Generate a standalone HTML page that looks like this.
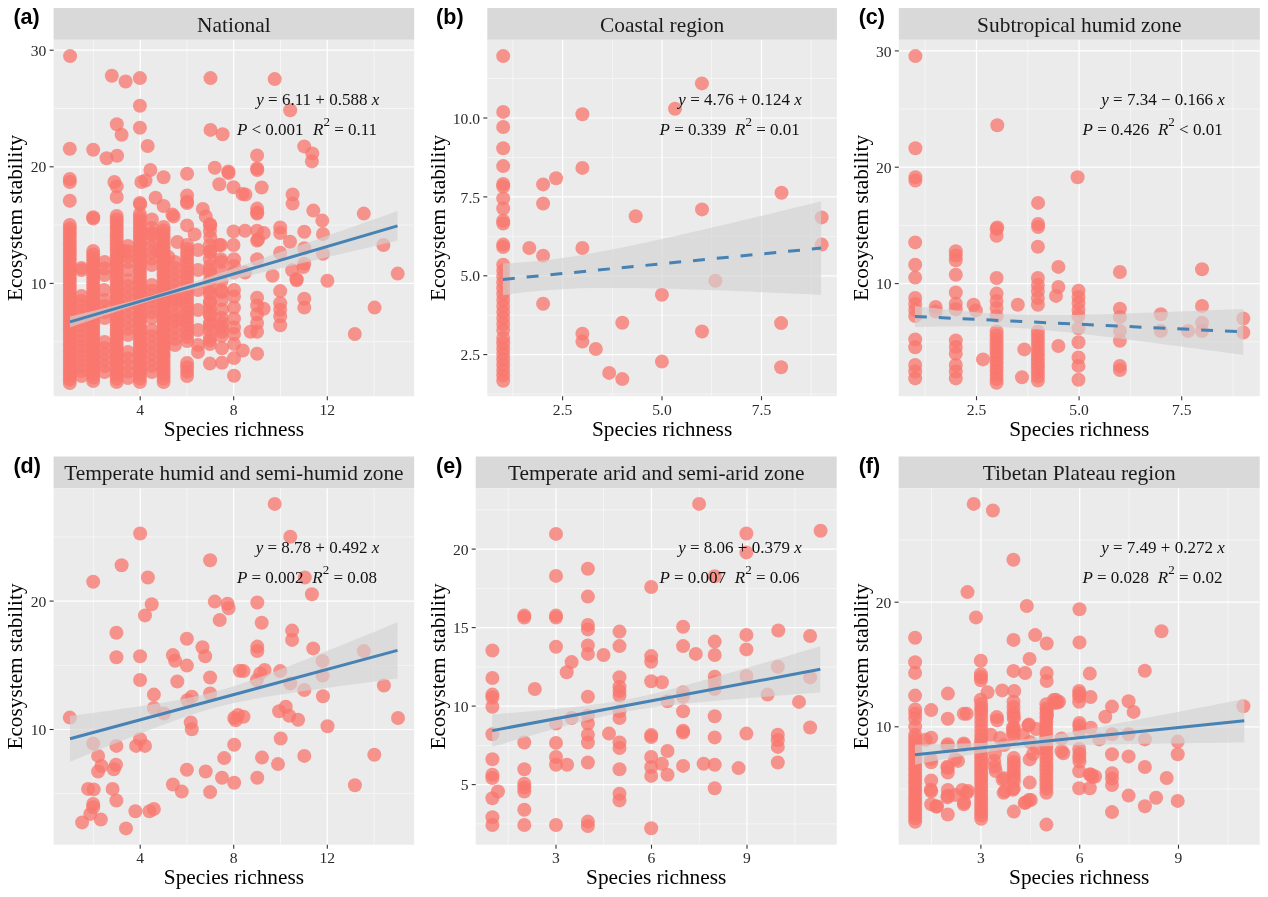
<!DOCTYPE html><html><head><meta charset="utf-8"><title>Ecosystem stability vs species richness</title><style>html,body{margin:0;padding:0;background:#fff;}svg{display:block;will-change:transform;}.tk{font-family:"Liberation Serif",serif;font-size:15.6px;fill:#2a2a2a;}.st{font-family:"Liberation Serif",serif;font-size:21.4px;fill:#1a1a1a;}.ax{font-family:"Liberation Serif",serif;font-size:21.3px;fill:#000;}.eq{font-family:"Liberation Serif",serif;font-size:17px;fill:#111;}.lb{font-family:"Liberation Sans",sans-serif;font-weight:bold;font-size:21.5px;fill:#000;}</style></head><body>
<svg width="1268" height="897" viewBox="0 0 1268 897">
<rect width="1268" height="897" fill="#fff"/>
<clipPath id="clipa"><rect x="53.6" y="39.8" width="360.6" height="356.4"/></clipPath>
<rect x="53.6" y="8" width="360.6" height="31.8" fill="#d9d9d9"/>
<text class="st" x="233.9" y="31.8" text-anchor="middle">National</text>
<rect x="53.6" y="39.8" width="360.6" height="356.4" fill="#ebebeb"/>
<g clip-path="url(#clipa)">
<line x1="93.4" y1="39.8" x2="93.4" y2="396.2" stroke="#fff" stroke-width="0.6" opacity="0.9"/>
<line x1="186.9" y1="39.8" x2="186.9" y2="396.2" stroke="#fff" stroke-width="0.6" opacity="0.9"/>
<line x1="280.5" y1="39.8" x2="280.5" y2="396.2" stroke="#fff" stroke-width="0.6" opacity="0.9"/>
<line x1="374.1" y1="39.8" x2="374.1" y2="396.2" stroke="#fff" stroke-width="0.6" opacity="0.9"/>
<line x1="53.6" y1="341.7" x2="414.2" y2="341.7" stroke="#fff" stroke-width="0.6" opacity="0.9"/>
<line x1="53.6" y1="225.1" x2="414.2" y2="225.1" stroke="#fff" stroke-width="0.6" opacity="0.9"/>
<line x1="53.6" y1="108.5" x2="414.2" y2="108.5" stroke="#fff" stroke-width="0.6" opacity="0.9"/>
<line x1="140.2" y1="39.8" x2="140.2" y2="396.2" stroke="#fff" stroke-width="1.2"/>
<line x1="233.7" y1="39.8" x2="233.7" y2="396.2" stroke="#fff" stroke-width="1.2"/>
<line x1="327.3" y1="39.8" x2="327.3" y2="396.2" stroke="#fff" stroke-width="1.2"/>
<line x1="53.6" y1="283.4" x2="414.2" y2="283.4" stroke="#fff" stroke-width="1.2"/>
<line x1="53.6" y1="166.8" x2="414.2" y2="166.8" stroke="#fff" stroke-width="1.2"/>
<line x1="53.6" y1="50.2" x2="414.2" y2="50.2" stroke="#fff" stroke-width="1.2"/>
<circle fill="rgba(248,118,109,0.76)" cx="70.1" cy="56.1" r="7.0"/>
<circle fill="rgba(248,118,109,0.76)" cx="111.8" cy="75.7" r="7.0"/>
<circle fill="rgba(248,118,109,0.76)" cx="125.6" cy="81.5" r="7.0"/>
<circle fill="rgba(248,118,109,0.76)" cx="139.9" cy="78.1" r="7.0"/>
<circle fill="rgba(248,118,109,0.76)" cx="210.5" cy="78.1" r="7.0"/>
<circle fill="rgba(248,118,109,0.76)" cx="139.9" cy="105.8" r="7.0"/>
<circle fill="rgba(248,118,109,0.76)" cx="116.8" cy="124.3" r="7.0"/>
<circle fill="rgba(248,118,109,0.76)" cx="121.6" cy="134.7" r="7.0"/>
<circle fill="rgba(248,118,109,0.76)" cx="139.9" cy="127.7" r="7.0"/>
<circle fill="rgba(248,118,109,0.76)" cx="210.5" cy="129.9" r="7.0"/>
<circle fill="rgba(248,118,109,0.76)" cx="222.6" cy="134.3" r="7.0"/>
<circle fill="rgba(248,118,109,0.76)" cx="69.8" cy="148.7" r="7.0"/>
<circle fill="rgba(248,118,109,0.76)" cx="93.2" cy="149.7" r="7.0"/>
<circle fill="rgba(248,118,109,0.76)" cx="106.6" cy="158.3" r="7.0"/>
<circle fill="rgba(248,118,109,0.76)" cx="117.1" cy="155.7" r="7.0"/>
<circle fill="rgba(248,118,109,0.76)" cx="147.7" cy="146" r="7.0"/>
<circle fill="rgba(248,118,109,0.76)" cx="69.8" cy="179" r="7.0"/>
<circle fill="rgba(248,118,109,0.76)" cx="69.8" cy="182" r="7.0"/>
<circle fill="rgba(248,118,109,0.76)" cx="69.8" cy="200.7" r="7.0"/>
<circle fill="rgba(248,118,109,0.76)" cx="114.4" cy="182" r="7.0"/>
<circle fill="rgba(248,118,109,0.76)" cx="116.7" cy="186.4" r="7.0"/>
<circle fill="rgba(248,118,109,0.76)" cx="116.7" cy="197" r="7.0"/>
<circle fill="rgba(248,118,109,0.76)" cx="150.4" cy="170" r="7.0"/>
<circle fill="rgba(248,118,109,0.76)" cx="141.4" cy="182" r="7.0"/>
<circle fill="rgba(248,118,109,0.76)" cx="145.5" cy="180.5" r="7.0"/>
<circle fill="rgba(248,118,109,0.76)" cx="163.6" cy="177.2" r="7.0"/>
<circle fill="rgba(248,118,109,0.76)" cx="187.1" cy="173.7" r="7.0"/>
<circle fill="rgba(248,118,109,0.76)" cx="139.9" cy="203" r="7.0"/>
<circle fill="rgba(248,118,109,0.76)" cx="155.6" cy="197.7" r="7.0"/>
<circle fill="rgba(248,118,109,0.76)" cx="163.6" cy="206" r="7.0"/>
<circle fill="rgba(248,118,109,0.76)" cx="187.1" cy="195.4" r="7.0"/>
<circle fill="rgba(248,118,109,0.76)" cx="187.1" cy="203" r="7.0"/>
<circle fill="rgba(248,118,109,0.76)" cx="214.8" cy="167.7" r="7.0"/>
<circle fill="rgba(248,118,109,0.76)" cx="228.3" cy="171.5" r="7.0"/>
<circle fill="rgba(248,118,109,0.76)" cx="219.3" cy="184.2" r="7.0"/>
<circle fill="rgba(248,118,109,0.76)" cx="233.5" cy="187.2" r="7.0"/>
<circle fill="rgba(248,118,109,0.76)" cx="242.5" cy="194" r="7.0"/>
<circle fill="rgba(248,118,109,0.76)" cx="202.8" cy="208.9" r="7.0"/>
<circle fill="rgba(248,118,109,0.76)" cx="205.8" cy="216.4" r="7.0"/>
<circle fill="rgba(248,118,109,0.76)" cx="210.3" cy="225.4" r="7.0"/>
<circle fill="rgba(248,118,109,0.76)" cx="93.2" cy="217.2" r="7.0"/>
<circle fill="rgba(248,118,109,0.76)" cx="151.9" cy="219.4" r="7.0"/>
<circle fill="rgba(248,118,109,0.76)" cx="151.9" cy="233" r="7.0"/>
<circle fill="rgba(248,118,109,0.76)" cx="173.6" cy="216.4" r="7.0"/>
<circle fill="rgba(248,118,109,0.76)" cx="187.1" cy="225.4" r="7.0"/>
<circle fill="rgba(248,118,109,0.76)" cx="194.6" cy="234.4" r="7.0"/>
<circle fill="rgba(248,118,109,0.76)" cx="177.4" cy="242" r="7.0"/>
<circle fill="rgba(248,118,109,0.76)" cx="210.3" cy="237.4" r="7.0"/>
<circle fill="rgba(248,118,109,0.76)" cx="210.3" cy="250.9" r="7.0"/>
<circle fill="rgba(248,118,109,0.76)" cx="219.3" cy="245" r="7.0"/>
<circle fill="rgba(248,118,109,0.76)" cx="233.5" cy="231.4" r="7.0"/>
<circle fill="rgba(248,118,109,0.76)" cx="233.5" cy="245" r="7.0"/>
<circle fill="rgba(248,118,109,0.76)" cx="123.4" cy="251" r="7.0"/>
<circle fill="rgba(248,118,109,0.76)" cx="157.9" cy="251" r="7.0"/>
<circle fill="rgba(248,118,109,0.76)" cx="168.4" cy="257" r="7.0"/>
<circle fill="rgba(248,118,109,0.76)" cx="172.4" cy="214.6" r="7.0"/>
<circle fill="rgba(248,118,109,0.76)" cx="228.6" cy="173" r="7.0"/>
<circle fill="rgba(248,118,109,0.76)" cx="140.2" cy="204.5" r="7.0"/>
<circle fill="rgba(248,118,109,0.76)" cx="93.2" cy="218.5" r="7.0"/>
<circle fill="rgba(248,118,109,0.76)" cx="187.1" cy="201.5" r="7.0"/>
<circle fill="rgba(248,118,109,0.76)" cx="274.7" cy="79.1" r="7.0"/>
<circle fill="rgba(248,118,109,0.76)" cx="290.2" cy="110.2" r="7.0"/>
<circle fill="rgba(248,118,109,0.76)" cx="304.2" cy="146.4" r="7.0"/>
<circle fill="rgba(248,118,109,0.76)" cx="312.3" cy="153.4" r="7.0"/>
<circle fill="rgba(248,118,109,0.76)" cx="311.9" cy="161.4" r="7.0"/>
<circle fill="rgba(248,118,109,0.76)" cx="257.1" cy="155.4" r="7.0"/>
<circle fill="rgba(248,118,109,0.76)" cx="257.1" cy="168.4" r="7.0"/>
<circle fill="rgba(248,118,109,0.76)" cx="245.4" cy="194.5" r="7.0"/>
<circle fill="rgba(248,118,109,0.76)" cx="261.7" cy="187.5" r="7.0"/>
<circle fill="rgba(248,118,109,0.76)" cx="292.6" cy="194.5" r="7.0"/>
<circle fill="rgba(248,118,109,0.76)" cx="292.6" cy="203.6" r="7.0"/>
<circle fill="rgba(248,118,109,0.76)" cx="257.1" cy="208.6" r="7.0"/>
<circle fill="rgba(248,118,109,0.76)" cx="257.1" cy="213.6" r="7.0"/>
<circle fill="rgba(248,118,109,0.76)" cx="313.3" cy="210.6" r="7.0"/>
<circle fill="rgba(248,118,109,0.76)" cx="363.8" cy="213.6" r="7.0"/>
<circle fill="rgba(248,118,109,0.76)" cx="322.3" cy="220.6" r="7.0"/>
<circle fill="rgba(248,118,109,0.76)" cx="323" cy="234" r="7.0"/>
<circle fill="rgba(248,118,109,0.76)" cx="304.3" cy="231.8" r="7.0"/>
<circle fill="rgba(248,118,109,0.76)" cx="280.2" cy="227.5" r="7.0"/>
<circle fill="rgba(248,118,109,0.76)" cx="280.2" cy="233" r="7.0"/>
<circle fill="rgba(248,118,109,0.76)" cx="290" cy="241.7" r="7.0"/>
<circle fill="rgba(248,118,109,0.76)" cx="245" cy="230.7" r="7.0"/>
<circle fill="rgba(248,118,109,0.76)" cx="257.1" cy="230.7" r="7.0"/>
<circle fill="rgba(248,118,109,0.76)" cx="257.1" cy="240.6" r="7.0"/>
<circle fill="rgba(248,118,109,0.76)" cx="263.7" cy="233" r="7.0"/>
<circle fill="rgba(248,118,109,0.76)" cx="209.9" cy="265.9" r="7.0"/>
<circle fill="rgba(248,118,109,0.76)" cx="209.9" cy="270.3" r="7.0"/>
<circle fill="rgba(248,118,109,0.76)" cx="220.9" cy="259.3" r="7.0"/>
<circle fill="rgba(248,118,109,0.76)" cx="234" cy="259.3" r="7.0"/>
<circle fill="rgba(248,118,109,0.76)" cx="234" cy="265.9" r="7.0"/>
<circle fill="rgba(248,118,109,0.76)" cx="234" cy="272.5" r="7.0"/>
<circle fill="rgba(248,118,109,0.76)" cx="245" cy="272.5" r="7.0"/>
<circle fill="rgba(248,118,109,0.76)" cx="257.1" cy="259.3" r="7.0"/>
<circle fill="rgba(248,118,109,0.76)" cx="280.2" cy="252.7" r="7.0"/>
<circle fill="rgba(248,118,109,0.76)" cx="304.3" cy="248.3" r="7.0"/>
<circle fill="rgba(248,118,109,0.76)" cx="304.3" cy="263.7" r="7.0"/>
<circle fill="rgba(248,118,109,0.76)" cx="323" cy="253.8" r="7.0"/>
<circle fill="rgba(248,118,109,0.76)" cx="292.2" cy="270.3" r="7.0"/>
<circle fill="rgba(248,118,109,0.76)" cx="296.6" cy="279.1" r="7.0"/>
<circle fill="rgba(248,118,109,0.76)" cx="272.5" cy="275.8" r="7.0"/>
<circle fill="rgba(248,118,109,0.76)" cx="327.4" cy="280.8" r="7.0"/>
<circle fill="rgba(248,118,109,0.76)" cx="383.4" cy="245" r="7.0"/>
<circle fill="rgba(248,118,109,0.76)" cx="397.7" cy="273.6" r="7.0"/>
<circle fill="rgba(248,118,109,0.76)" cx="280.2" cy="291.1" r="7.0"/>
<circle fill="rgba(248,118,109,0.76)" cx="304.3" cy="298.8" r="7.0"/>
<circle fill="rgba(248,118,109,0.76)" cx="304.3" cy="307.6" r="7.0"/>
<circle fill="rgba(248,118,109,0.76)" cx="374.6" cy="307.6" r="7.0"/>
<circle fill="rgba(248,118,109,0.76)" cx="354.8" cy="334" r="7.0"/>
<circle fill="rgba(248,118,109,0.76)" cx="280.2" cy="303.2" r="7.0"/>
<circle fill="rgba(248,118,109,0.76)" cx="280.2" cy="309.8" r="7.0"/>
<circle fill="rgba(248,118,109,0.76)" cx="280.2" cy="316.4" r="7.0"/>
<circle fill="rgba(248,118,109,0.76)" cx="280.2" cy="325.2" r="7.0"/>
<circle fill="rgba(248,118,109,0.76)" cx="257.1" cy="297.7" r="7.0"/>
<circle fill="rgba(248,118,109,0.76)" cx="257.1" cy="305.4" r="7.0"/>
<circle fill="rgba(248,118,109,0.76)" cx="257.1" cy="314.2" r="7.0"/>
<circle fill="rgba(248,118,109,0.76)" cx="257.1" cy="323" r="7.0"/>
<circle fill="rgba(248,118,109,0.76)" cx="257.1" cy="331.8" r="7.0"/>
<circle fill="rgba(248,118,109,0.76)" cx="263.7" cy="308.7" r="7.0"/>
<circle fill="rgba(248,118,109,0.76)" cx="250.5" cy="331.8" r="7.0"/>
<circle fill="rgba(248,118,109,0.76)" cx="234" cy="290" r="7.0"/>
<circle fill="rgba(248,118,109,0.76)" cx="234" cy="296.6" r="7.0"/>
<circle fill="rgba(248,118,109,0.76)" cx="234" cy="307.6" r="7.0"/>
<circle fill="rgba(248,118,109,0.76)" cx="234" cy="318.6" r="7.0"/>
<circle fill="rgba(248,118,109,0.76)" cx="234" cy="327.4" r="7.0"/>
<circle fill="rgba(248,118,109,0.76)" cx="234" cy="334" r="7.0"/>
<circle fill="rgba(248,118,109,0.76)" cx="222" cy="292.2" r="7.0"/>
<circle fill="rgba(248,118,109,0.76)" cx="222" cy="309.8" r="7.0"/>
<circle fill="rgba(248,118,109,0.76)" cx="222" cy="323" r="7.0"/>
<circle fill="rgba(248,118,109,0.76)" cx="222" cy="331.8" r="7.0"/>
<circle fill="rgba(248,118,109,0.76)" cx="209.9" cy="292.2" r="7.0"/>
<circle fill="rgba(248,118,109,0.76)" cx="209.9" cy="303.2" r="7.0"/>
<circle fill="rgba(248,118,109,0.76)" cx="209.9" cy="314.2" r="7.0"/>
<circle fill="rgba(248,118,109,0.76)" cx="209.9" cy="325.2" r="7.0"/>
<circle fill="rgba(248,118,109,0.76)" cx="209.9" cy="340.6" r="7.0"/>
<circle fill="rgba(248,118,109,0.76)" cx="222" cy="348.3" r="7.0"/>
<circle fill="rgba(248,118,109,0.76)" cx="234" cy="343.9" r="7.0"/>
<circle fill="rgba(248,118,109,0.76)" cx="234" cy="358.1" r="7.0"/>
<circle fill="rgba(248,118,109,0.76)" cx="242.8" cy="350.5" r="7.0"/>
<circle fill="rgba(248,118,109,0.76)" cx="257.1" cy="353.7" r="7.0"/>
<circle fill="rgba(248,118,109,0.76)" cx="209.9" cy="363.6" r="7.0"/>
<circle fill="rgba(248,118,109,0.76)" cx="234" cy="375.7" r="7.0"/>
<circle fill="rgba(248,118,109,0.76)" cx="220.9" cy="245" r="7.0"/>
<circle fill="rgba(248,118,109,0.76)" cx="209.9" cy="224.2" r="7.0"/>
<circle fill="rgba(248,118,109,0.76)" cx="198" cy="290" r="7.0"/>
<circle fill="rgba(248,118,109,0.76)" cx="198" cy="310" r="7.0"/>
<circle fill="rgba(248,118,109,0.76)" cx="198" cy="330" r="7.0"/>
<circle fill="rgba(248,118,109,0.76)" cx="198" cy="270" r="7.0"/>
<circle fill="rgba(248,118,109,0.76)" cx="198" cy="250" r="7.0"/>
<circle fill="rgba(248,118,109,0.76)" cx="69.8" cy="225" r="7.0"/>
<circle fill="rgba(248,118,109,0.76)" cx="69.8" cy="228.5" r="7.0"/>
<circle fill="rgba(248,118,109,0.76)" cx="69.8" cy="232" r="7.0"/>
<circle fill="rgba(248,118,109,0.76)" cx="69.8" cy="235.5" r="7.0"/>
<circle fill="rgba(248,118,109,0.76)" cx="69.8" cy="239" r="7.0"/>
<circle fill="rgba(248,118,109,0.76)" cx="69.8" cy="242.6" r="7.0"/>
<circle fill="rgba(248,118,109,0.76)" cx="69.8" cy="246.1" r="7.0"/>
<circle fill="rgba(248,118,109,0.76)" cx="69.8" cy="249.6" r="7.0"/>
<circle fill="rgba(248,118,109,0.76)" cx="69.8" cy="253.1" r="7.0"/>
<circle fill="rgba(248,118,109,0.76)" cx="69.8" cy="256.6" r="7.0"/>
<circle fill="rgba(248,118,109,0.76)" cx="69.8" cy="260.1" r="7.0"/>
<circle fill="rgba(248,118,109,0.76)" cx="69.8" cy="263.6" r="7.0"/>
<circle fill="rgba(248,118,109,0.76)" cx="69.8" cy="267.1" r="7.0"/>
<circle fill="rgba(248,118,109,0.76)" cx="69.8" cy="270.6" r="7.0"/>
<circle fill="rgba(248,118,109,0.76)" cx="69.8" cy="274.2" r="7.0"/>
<circle fill="rgba(248,118,109,0.76)" cx="69.8" cy="277.7" r="7.0"/>
<circle fill="rgba(248,118,109,0.76)" cx="69.8" cy="281.2" r="7.0"/>
<circle fill="rgba(248,118,109,0.76)" cx="69.8" cy="284.7" r="7.0"/>
<circle fill="rgba(248,118,109,0.76)" cx="69.8" cy="288.2" r="7.0"/>
<circle fill="rgba(248,118,109,0.76)" cx="69.8" cy="291.7" r="7.0"/>
<circle fill="rgba(248,118,109,0.76)" cx="69.8" cy="295.2" r="7.0"/>
<circle fill="rgba(248,118,109,0.76)" cx="69.8" cy="298.7" r="7.0"/>
<circle fill="rgba(248,118,109,0.76)" cx="69.8" cy="302.2" r="7.0"/>
<circle fill="rgba(248,118,109,0.76)" cx="69.8" cy="305.8" r="7.0"/>
<circle fill="rgba(248,118,109,0.76)" cx="69.8" cy="309.3" r="7.0"/>
<circle fill="rgba(248,118,109,0.76)" cx="69.8" cy="312.8" r="7.0"/>
<circle fill="rgba(248,118,109,0.76)" cx="69.8" cy="316.3" r="7.0"/>
<circle fill="rgba(248,118,109,0.76)" cx="69.8" cy="319.8" r="7.0"/>
<circle fill="rgba(248,118,109,0.76)" cx="69.8" cy="323.3" r="7.0"/>
<circle fill="rgba(248,118,109,0.76)" cx="69.8" cy="326.8" r="7.0"/>
<circle fill="rgba(248,118,109,0.76)" cx="69.8" cy="330.3" r="7.0"/>
<circle fill="rgba(248,118,109,0.76)" cx="69.8" cy="333.8" r="7.0"/>
<circle fill="rgba(248,118,109,0.76)" cx="69.8" cy="337.4" r="7.0"/>
<circle fill="rgba(248,118,109,0.76)" cx="69.8" cy="340.9" r="7.0"/>
<circle fill="rgba(248,118,109,0.76)" cx="69.8" cy="344.4" r="7.0"/>
<circle fill="rgba(248,118,109,0.76)" cx="69.8" cy="347.9" r="7.0"/>
<circle fill="rgba(248,118,109,0.76)" cx="69.8" cy="351.4" r="7.0"/>
<circle fill="rgba(248,118,109,0.76)" cx="69.8" cy="354.9" r="7.0"/>
<circle fill="rgba(248,118,109,0.76)" cx="69.8" cy="358.4" r="7.0"/>
<circle fill="rgba(248,118,109,0.76)" cx="69.8" cy="361.9" r="7.0"/>
<circle fill="rgba(248,118,109,0.76)" cx="69.8" cy="365.4" r="7.0"/>
<circle fill="rgba(248,118,109,0.76)" cx="69.8" cy="369" r="7.0"/>
<circle fill="rgba(248,118,109,0.76)" cx="69.8" cy="372.5" r="7.0"/>
<circle fill="rgba(248,118,109,0.76)" cx="69.8" cy="376" r="7.0"/>
<circle fill="rgba(248,118,109,0.76)" cx="69.8" cy="379.5" r="7.0"/>
<circle fill="rgba(248,118,109,0.76)" cx="69.8" cy="383" r="7.0"/>
<circle fill="rgba(248,118,109,0.76)" cx="93.2" cy="251" r="7.0"/>
<circle fill="rgba(248,118,109,0.76)" cx="93.2" cy="254.5" r="7.0"/>
<circle fill="rgba(248,118,109,0.76)" cx="93.2" cy="258" r="7.0"/>
<circle fill="rgba(248,118,109,0.76)" cx="93.2" cy="261.5" r="7.0"/>
<circle fill="rgba(248,118,109,0.76)" cx="93.2" cy="265.1" r="7.0"/>
<circle fill="rgba(248,118,109,0.76)" cx="93.2" cy="268.6" r="7.0"/>
<circle fill="rgba(248,118,109,0.76)" cx="93.2" cy="272.1" r="7.0"/>
<circle fill="rgba(248,118,109,0.76)" cx="93.2" cy="275.6" r="7.0"/>
<circle fill="rgba(248,118,109,0.76)" cx="93.2" cy="279.1" r="7.0"/>
<circle fill="rgba(248,118,109,0.76)" cx="93.2" cy="282.6" r="7.0"/>
<circle fill="rgba(248,118,109,0.76)" cx="93.2" cy="286.1" r="7.0"/>
<circle fill="rgba(248,118,109,0.76)" cx="93.2" cy="289.6" r="7.0"/>
<circle fill="rgba(248,118,109,0.76)" cx="93.2" cy="293.2" r="7.0"/>
<circle fill="rgba(248,118,109,0.76)" cx="93.2" cy="296.7" r="7.0"/>
<circle fill="rgba(248,118,109,0.76)" cx="93.2" cy="300.2" r="7.0"/>
<circle fill="rgba(248,118,109,0.76)" cx="93.2" cy="303.7" r="7.0"/>
<circle fill="rgba(248,118,109,0.76)" cx="93.2" cy="307.2" r="7.0"/>
<circle fill="rgba(248,118,109,0.76)" cx="93.2" cy="310.7" r="7.0"/>
<circle fill="rgba(248,118,109,0.76)" cx="93.2" cy="314.2" r="7.0"/>
<circle fill="rgba(248,118,109,0.76)" cx="93.2" cy="317.8" r="7.0"/>
<circle fill="rgba(248,118,109,0.76)" cx="93.2" cy="321.3" r="7.0"/>
<circle fill="rgba(248,118,109,0.76)" cx="93.2" cy="324.8" r="7.0"/>
<circle fill="rgba(248,118,109,0.76)" cx="93.2" cy="328.3" r="7.0"/>
<circle fill="rgba(248,118,109,0.76)" cx="93.2" cy="331.8" r="7.0"/>
<circle fill="rgba(248,118,109,0.76)" cx="93.2" cy="335.3" r="7.0"/>
<circle fill="rgba(248,118,109,0.76)" cx="93.2" cy="338.8" r="7.0"/>
<circle fill="rgba(248,118,109,0.76)" cx="93.2" cy="342.4" r="7.0"/>
<circle fill="rgba(248,118,109,0.76)" cx="93.2" cy="345.9" r="7.0"/>
<circle fill="rgba(248,118,109,0.76)" cx="93.2" cy="349.4" r="7.0"/>
<circle fill="rgba(248,118,109,0.76)" cx="93.2" cy="352.9" r="7.0"/>
<circle fill="rgba(248,118,109,0.76)" cx="93.2" cy="356.4" r="7.0"/>
<circle fill="rgba(248,118,109,0.76)" cx="93.2" cy="359.9" r="7.0"/>
<circle fill="rgba(248,118,109,0.76)" cx="93.2" cy="363.4" r="7.0"/>
<circle fill="rgba(248,118,109,0.76)" cx="93.2" cy="366.9" r="7.0"/>
<circle fill="rgba(248,118,109,0.76)" cx="93.2" cy="370.5" r="7.0"/>
<circle fill="rgba(248,118,109,0.76)" cx="93.2" cy="374" r="7.0"/>
<circle fill="rgba(248,118,109,0.76)" cx="93.2" cy="377.5" r="7.0"/>
<circle fill="rgba(248,118,109,0.76)" cx="93.2" cy="381" r="7.0"/>
<circle fill="rgba(248,118,109,0.76)" cx="116.7" cy="216" r="7.0"/>
<circle fill="rgba(248,118,109,0.76)" cx="116.7" cy="219.5" r="7.0"/>
<circle fill="rgba(248,118,109,0.76)" cx="116.7" cy="223.1" r="7.0"/>
<circle fill="rgba(248,118,109,0.76)" cx="116.7" cy="226.6" r="7.0"/>
<circle fill="rgba(248,118,109,0.76)" cx="116.7" cy="230.1" r="7.0"/>
<circle fill="rgba(248,118,109,0.76)" cx="116.7" cy="233.7" r="7.0"/>
<circle fill="rgba(248,118,109,0.76)" cx="116.7" cy="237.2" r="7.0"/>
<circle fill="rgba(248,118,109,0.76)" cx="116.7" cy="240.7" r="7.0"/>
<circle fill="rgba(248,118,109,0.76)" cx="116.7" cy="244.3" r="7.0"/>
<circle fill="rgba(248,118,109,0.76)" cx="116.7" cy="247.8" r="7.0"/>
<circle fill="rgba(248,118,109,0.76)" cx="116.7" cy="251.3" r="7.0"/>
<circle fill="rgba(248,118,109,0.76)" cx="116.7" cy="254.9" r="7.0"/>
<circle fill="rgba(248,118,109,0.76)" cx="116.7" cy="258.4" r="7.0"/>
<circle fill="rgba(248,118,109,0.76)" cx="116.7" cy="261.9" r="7.0"/>
<circle fill="rgba(248,118,109,0.76)" cx="116.7" cy="265.4" r="7.0"/>
<circle fill="rgba(248,118,109,0.76)" cx="116.7" cy="269" r="7.0"/>
<circle fill="rgba(248,118,109,0.76)" cx="116.7" cy="272.5" r="7.0"/>
<circle fill="rgba(248,118,109,0.76)" cx="116.7" cy="276" r="7.0"/>
<circle fill="rgba(248,118,109,0.76)" cx="116.7" cy="279.6" r="7.0"/>
<circle fill="rgba(248,118,109,0.76)" cx="116.7" cy="283.1" r="7.0"/>
<circle fill="rgba(248,118,109,0.76)" cx="116.7" cy="286.6" r="7.0"/>
<circle fill="rgba(248,118,109,0.76)" cx="116.7" cy="290.2" r="7.0"/>
<circle fill="rgba(248,118,109,0.76)" cx="116.7" cy="293.7" r="7.0"/>
<circle fill="rgba(248,118,109,0.76)" cx="116.7" cy="297.2" r="7.0"/>
<circle fill="rgba(248,118,109,0.76)" cx="116.7" cy="300.8" r="7.0"/>
<circle fill="rgba(248,118,109,0.76)" cx="116.7" cy="304.3" r="7.0"/>
<circle fill="rgba(248,118,109,0.76)" cx="116.7" cy="307.8" r="7.0"/>
<circle fill="rgba(248,118,109,0.76)" cx="116.7" cy="311.4" r="7.0"/>
<circle fill="rgba(248,118,109,0.76)" cx="116.7" cy="314.9" r="7.0"/>
<circle fill="rgba(248,118,109,0.76)" cx="116.7" cy="318.4" r="7.0"/>
<circle fill="rgba(248,118,109,0.76)" cx="116.7" cy="322" r="7.0"/>
<circle fill="rgba(248,118,109,0.76)" cx="116.7" cy="325.5" r="7.0"/>
<circle fill="rgba(248,118,109,0.76)" cx="116.7" cy="329" r="7.0"/>
<circle fill="rgba(248,118,109,0.76)" cx="116.7" cy="332.6" r="7.0"/>
<circle fill="rgba(248,118,109,0.76)" cx="116.7" cy="336.1" r="7.0"/>
<circle fill="rgba(248,118,109,0.76)" cx="116.7" cy="339.6" r="7.0"/>
<circle fill="rgba(248,118,109,0.76)" cx="116.7" cy="343.1" r="7.0"/>
<circle fill="rgba(248,118,109,0.76)" cx="116.7" cy="346.7" r="7.0"/>
<circle fill="rgba(248,118,109,0.76)" cx="116.7" cy="350.2" r="7.0"/>
<circle fill="rgba(248,118,109,0.76)" cx="116.7" cy="353.7" r="7.0"/>
<circle fill="rgba(248,118,109,0.76)" cx="116.7" cy="357.3" r="7.0"/>
<circle fill="rgba(248,118,109,0.76)" cx="116.7" cy="360.8" r="7.0"/>
<circle fill="rgba(248,118,109,0.76)" cx="116.7" cy="364.3" r="7.0"/>
<circle fill="rgba(248,118,109,0.76)" cx="116.7" cy="367.9" r="7.0"/>
<circle fill="rgba(248,118,109,0.76)" cx="116.7" cy="371.4" r="7.0"/>
<circle fill="rgba(248,118,109,0.76)" cx="116.7" cy="374.9" r="7.0"/>
<circle fill="rgba(248,118,109,0.76)" cx="116.7" cy="378.5" r="7.0"/>
<circle fill="rgba(248,118,109,0.76)" cx="116.7" cy="382" r="7.0"/>
<circle fill="rgba(248,118,109,0.76)" cx="139.9" cy="214" r="7.0"/>
<circle fill="rgba(248,118,109,0.76)" cx="139.9" cy="217.5" r="7.0"/>
<circle fill="rgba(248,118,109,0.76)" cx="139.9" cy="221" r="7.0"/>
<circle fill="rgba(248,118,109,0.76)" cx="139.9" cy="224.5" r="7.0"/>
<circle fill="rgba(248,118,109,0.76)" cx="139.9" cy="228" r="7.0"/>
<circle fill="rgba(248,118,109,0.76)" cx="139.9" cy="231.5" r="7.0"/>
<circle fill="rgba(248,118,109,0.76)" cx="139.9" cy="235" r="7.0"/>
<circle fill="rgba(248,118,109,0.76)" cx="139.9" cy="238.5" r="7.0"/>
<circle fill="rgba(248,118,109,0.76)" cx="139.9" cy="242" r="7.0"/>
<circle fill="rgba(248,118,109,0.76)" cx="139.9" cy="245.5" r="7.0"/>
<circle fill="rgba(248,118,109,0.76)" cx="139.9" cy="249" r="7.0"/>
<circle fill="rgba(248,118,109,0.76)" cx="139.9" cy="252.5" r="7.0"/>
<circle fill="rgba(248,118,109,0.76)" cx="139.9" cy="256" r="7.0"/>
<circle fill="rgba(248,118,109,0.76)" cx="139.9" cy="259.5" r="7.0"/>
<circle fill="rgba(248,118,109,0.76)" cx="139.9" cy="263" r="7.0"/>
<circle fill="rgba(248,118,109,0.76)" cx="139.9" cy="266.5" r="7.0"/>
<circle fill="rgba(248,118,109,0.76)" cx="139.9" cy="270" r="7.0"/>
<circle fill="rgba(248,118,109,0.76)" cx="139.9" cy="273.5" r="7.0"/>
<circle fill="rgba(248,118,109,0.76)" cx="139.9" cy="277" r="7.0"/>
<circle fill="rgba(248,118,109,0.76)" cx="139.9" cy="280.5" r="7.0"/>
<circle fill="rgba(248,118,109,0.76)" cx="139.9" cy="284" r="7.0"/>
<circle fill="rgba(248,118,109,0.76)" cx="139.9" cy="287.5" r="7.0"/>
<circle fill="rgba(248,118,109,0.76)" cx="139.9" cy="291" r="7.0"/>
<circle fill="rgba(248,118,109,0.76)" cx="139.9" cy="294.5" r="7.0"/>
<circle fill="rgba(248,118,109,0.76)" cx="139.9" cy="298" r="7.0"/>
<circle fill="rgba(248,118,109,0.76)" cx="139.9" cy="301.5" r="7.0"/>
<circle fill="rgba(248,118,109,0.76)" cx="139.9" cy="305" r="7.0"/>
<circle fill="rgba(248,118,109,0.76)" cx="139.9" cy="308.5" r="7.0"/>
<circle fill="rgba(248,118,109,0.76)" cx="139.9" cy="312" r="7.0"/>
<circle fill="rgba(248,118,109,0.76)" cx="139.9" cy="315.5" r="7.0"/>
<circle fill="rgba(248,118,109,0.76)" cx="139.9" cy="319" r="7.0"/>
<circle fill="rgba(248,118,109,0.76)" cx="139.9" cy="322.5" r="7.0"/>
<circle fill="rgba(248,118,109,0.76)" cx="139.9" cy="326" r="7.0"/>
<circle fill="rgba(248,118,109,0.76)" cx="139.9" cy="329.5" r="7.0"/>
<circle fill="rgba(248,118,109,0.76)" cx="139.9" cy="333" r="7.0"/>
<circle fill="rgba(248,118,109,0.76)" cx="139.9" cy="336.5" r="7.0"/>
<circle fill="rgba(248,118,109,0.76)" cx="139.9" cy="340" r="7.0"/>
<circle fill="rgba(248,118,109,0.76)" cx="139.9" cy="343.5" r="7.0"/>
<circle fill="rgba(248,118,109,0.76)" cx="139.9" cy="347" r="7.0"/>
<circle fill="rgba(248,118,109,0.76)" cx="139.9" cy="350.5" r="7.0"/>
<circle fill="rgba(248,118,109,0.76)" cx="139.9" cy="354" r="7.0"/>
<circle fill="rgba(248,118,109,0.76)" cx="139.9" cy="357.5" r="7.0"/>
<circle fill="rgba(248,118,109,0.76)" cx="139.9" cy="361" r="7.0"/>
<circle fill="rgba(248,118,109,0.76)" cx="139.9" cy="364.5" r="7.0"/>
<circle fill="rgba(248,118,109,0.76)" cx="139.9" cy="368" r="7.0"/>
<circle fill="rgba(248,118,109,0.76)" cx="139.9" cy="371.5" r="7.0"/>
<circle fill="rgba(248,118,109,0.76)" cx="139.9" cy="375" r="7.0"/>
<circle fill="rgba(248,118,109,0.76)" cx="139.9" cy="378.5" r="7.0"/>
<circle fill="rgba(248,118,109,0.76)" cx="139.9" cy="382" r="7.0"/>
<circle fill="rgba(248,118,109,0.76)" cx="163.6" cy="227" r="7.0"/>
<circle fill="rgba(248,118,109,0.76)" cx="163.6" cy="230.5" r="7.0"/>
<circle fill="rgba(248,118,109,0.76)" cx="163.6" cy="234" r="7.0"/>
<circle fill="rgba(248,118,109,0.76)" cx="163.6" cy="237.6" r="7.0"/>
<circle fill="rgba(248,118,109,0.76)" cx="163.6" cy="241.1" r="7.0"/>
<circle fill="rgba(248,118,109,0.76)" cx="163.6" cy="244.6" r="7.0"/>
<circle fill="rgba(248,118,109,0.76)" cx="163.6" cy="248.1" r="7.0"/>
<circle fill="rgba(248,118,109,0.76)" cx="163.6" cy="251.7" r="7.0"/>
<circle fill="rgba(248,118,109,0.76)" cx="163.6" cy="255.2" r="7.0"/>
<circle fill="rgba(248,118,109,0.76)" cx="163.6" cy="258.7" r="7.0"/>
<circle fill="rgba(248,118,109,0.76)" cx="163.6" cy="262.2" r="7.0"/>
<circle fill="rgba(248,118,109,0.76)" cx="163.6" cy="265.8" r="7.0"/>
<circle fill="rgba(248,118,109,0.76)" cx="163.6" cy="269.3" r="7.0"/>
<circle fill="rgba(248,118,109,0.76)" cx="163.6" cy="272.8" r="7.0"/>
<circle fill="rgba(248,118,109,0.76)" cx="163.6" cy="276.3" r="7.0"/>
<circle fill="rgba(248,118,109,0.76)" cx="163.6" cy="279.8" r="7.0"/>
<circle fill="rgba(248,118,109,0.76)" cx="163.6" cy="283.4" r="7.0"/>
<circle fill="rgba(248,118,109,0.76)" cx="163.6" cy="286.9" r="7.0"/>
<circle fill="rgba(248,118,109,0.76)" cx="163.6" cy="290.4" r="7.0"/>
<circle fill="rgba(248,118,109,0.76)" cx="163.6" cy="293.9" r="7.0"/>
<circle fill="rgba(248,118,109,0.76)" cx="163.6" cy="297.5" r="7.0"/>
<circle fill="rgba(248,118,109,0.76)" cx="163.6" cy="301" r="7.0"/>
<circle fill="rgba(248,118,109,0.76)" cx="163.6" cy="304.5" r="7.0"/>
<circle fill="rgba(248,118,109,0.76)" cx="163.6" cy="308" r="7.0"/>
<circle fill="rgba(248,118,109,0.76)" cx="163.6" cy="311.5" r="7.0"/>
<circle fill="rgba(248,118,109,0.76)" cx="163.6" cy="315.1" r="7.0"/>
<circle fill="rgba(248,118,109,0.76)" cx="163.6" cy="318.6" r="7.0"/>
<circle fill="rgba(248,118,109,0.76)" cx="163.6" cy="322.1" r="7.0"/>
<circle fill="rgba(248,118,109,0.76)" cx="163.6" cy="325.6" r="7.0"/>
<circle fill="rgba(248,118,109,0.76)" cx="163.6" cy="329.2" r="7.0"/>
<circle fill="rgba(248,118,109,0.76)" cx="163.6" cy="332.7" r="7.0"/>
<circle fill="rgba(248,118,109,0.76)" cx="163.6" cy="336.2" r="7.0"/>
<circle fill="rgba(248,118,109,0.76)" cx="163.6" cy="339.7" r="7.0"/>
<circle fill="rgba(248,118,109,0.76)" cx="163.6" cy="343.2" r="7.0"/>
<circle fill="rgba(248,118,109,0.76)" cx="163.6" cy="346.8" r="7.0"/>
<circle fill="rgba(248,118,109,0.76)" cx="163.6" cy="350.3" r="7.0"/>
<circle fill="rgba(248,118,109,0.76)" cx="163.6" cy="353.8" r="7.0"/>
<circle fill="rgba(248,118,109,0.76)" cx="163.6" cy="357.3" r="7.0"/>
<circle fill="rgba(248,118,109,0.76)" cx="163.6" cy="360.9" r="7.0"/>
<circle fill="rgba(248,118,109,0.76)" cx="163.6" cy="364.4" r="7.0"/>
<circle fill="rgba(248,118,109,0.76)" cx="163.6" cy="367.9" r="7.0"/>
<circle fill="rgba(248,118,109,0.76)" cx="163.6" cy="371.4" r="7.0"/>
<circle fill="rgba(248,118,109,0.76)" cx="163.6" cy="375" r="7.0"/>
<circle fill="rgba(248,118,109,0.76)" cx="163.6" cy="378.5" r="7.0"/>
<circle fill="rgba(248,118,109,0.76)" cx="163.6" cy="382" r="7.0"/>
<circle fill="rgba(248,118,109,0.76)" cx="187.1" cy="245" r="7.0"/>
<circle fill="rgba(248,118,109,0.76)" cx="187.1" cy="249" r="7.0"/>
<circle fill="rgba(248,118,109,0.76)" cx="187.1" cy="253" r="7.0"/>
<circle fill="rgba(248,118,109,0.76)" cx="187.1" cy="257" r="7.0"/>
<circle fill="rgba(248,118,109,0.76)" cx="187.1" cy="261" r="7.0"/>
<circle fill="rgba(248,118,109,0.76)" cx="187.1" cy="265" r="7.0"/>
<circle fill="rgba(248,118,109,0.76)" cx="187.1" cy="269" r="7.0"/>
<circle fill="rgba(248,118,109,0.76)" cx="187.1" cy="273" r="7.0"/>
<circle fill="rgba(248,118,109,0.76)" cx="187.1" cy="277" r="7.0"/>
<circle fill="rgba(248,118,109,0.76)" cx="187.1" cy="281" r="7.0"/>
<circle fill="rgba(248,118,109,0.76)" cx="187.1" cy="285" r="7.0"/>
<circle fill="rgba(248,118,109,0.76)" cx="187.1" cy="289" r="7.0"/>
<circle fill="rgba(248,118,109,0.76)" cx="187.1" cy="293" r="7.0"/>
<circle fill="rgba(248,118,109,0.76)" cx="187.1" cy="297" r="7.0"/>
<circle fill="rgba(248,118,109,0.76)" cx="187.1" cy="301" r="7.0"/>
<circle fill="rgba(248,118,109,0.76)" cx="187.1" cy="305" r="7.0"/>
<circle fill="rgba(248,118,109,0.76)" cx="187.1" cy="309" r="7.0"/>
<circle fill="rgba(248,118,109,0.76)" cx="187.1" cy="313" r="7.0"/>
<circle fill="rgba(248,118,109,0.76)" cx="187.1" cy="317" r="7.0"/>
<circle fill="rgba(248,118,109,0.76)" cx="187.1" cy="321" r="7.0"/>
<circle fill="rgba(248,118,109,0.76)" cx="187.1" cy="325" r="7.0"/>
<circle fill="rgba(248,118,109,0.76)" cx="187.1" cy="329" r="7.0"/>
<circle fill="rgba(248,118,109,0.76)" cx="187.1" cy="333" r="7.0"/>
<circle fill="rgba(248,118,109,0.76)" cx="187.1" cy="337" r="7.0"/>
<circle fill="rgba(248,118,109,0.76)" cx="187.1" cy="341" r="7.0"/>
<circle fill="rgba(248,118,109,0.76)" cx="187.1" cy="363" r="7.0"/>
<circle fill="rgba(248,118,109,0.76)" cx="187.1" cy="367.3" r="7.0"/>
<circle fill="rgba(248,118,109,0.76)" cx="187.1" cy="371.7" r="7.0"/>
<circle fill="rgba(248,118,109,0.76)" cx="187.1" cy="376" r="7.0"/>
<circle fill="rgba(248,118,109,0.76)" cx="81.5" cy="268" r="7.0"/>
<circle fill="rgba(248,118,109,0.76)" cx="81.5" cy="270" r="7.0"/>
<circle fill="rgba(248,118,109,0.76)" cx="81.5" cy="296" r="7.0"/>
<circle fill="rgba(248,118,109,0.76)" cx="81.5" cy="301" r="7.0"/>
<circle fill="rgba(248,118,109,0.76)" cx="81.5" cy="306" r="7.0"/>
<circle fill="rgba(248,118,109,0.76)" cx="81.5" cy="311" r="7.0"/>
<circle fill="rgba(248,118,109,0.76)" cx="81.5" cy="316" r="7.0"/>
<circle fill="rgba(248,118,109,0.76)" cx="81.5" cy="321" r="7.0"/>
<circle fill="rgba(248,118,109,0.76)" cx="81.5" cy="326" r="7.0"/>
<circle fill="rgba(248,118,109,0.76)" cx="81.5" cy="331" r="7.0"/>
<circle fill="rgba(248,118,109,0.76)" cx="81.5" cy="336" r="7.0"/>
<circle fill="rgba(248,118,109,0.76)" cx="81.5" cy="341" r="7.0"/>
<circle fill="rgba(248,118,109,0.76)" cx="81.5" cy="346" r="7.0"/>
<circle fill="rgba(248,118,109,0.76)" cx="81.5" cy="351" r="7.0"/>
<circle fill="rgba(248,118,109,0.76)" cx="81.5" cy="356" r="7.0"/>
<circle fill="rgba(248,118,109,0.76)" cx="81.5" cy="361" r="7.0"/>
<circle fill="rgba(248,118,109,0.76)" cx="81.5" cy="366" r="7.0"/>
<circle fill="rgba(248,118,109,0.76)" cx="81.5" cy="371" r="7.0"/>
<circle fill="rgba(248,118,109,0.76)" cx="81.5" cy="376" r="7.0"/>
<circle fill="rgba(248,118,109,0.76)" cx="104.6" cy="262" r="7.0"/>
<circle fill="rgba(248,118,109,0.76)" cx="104.6" cy="268.5" r="7.0"/>
<circle fill="rgba(248,118,109,0.76)" cx="104.6" cy="275" r="7.0"/>
<circle fill="rgba(248,118,109,0.76)" cx="104.6" cy="300" r="7.0"/>
<circle fill="rgba(248,118,109,0.76)" cx="104.6" cy="306" r="7.0"/>
<circle fill="rgba(248,118,109,0.76)" cx="104.6" cy="312" r="7.0"/>
<circle fill="rgba(248,118,109,0.76)" cx="104.6" cy="318" r="7.0"/>
<circle fill="rgba(248,118,109,0.76)" cx="104.6" cy="342" r="7.0"/>
<circle fill="rgba(248,118,109,0.76)" cx="104.6" cy="348" r="7.0"/>
<circle fill="rgba(248,118,109,0.76)" cx="104.6" cy="354" r="7.0"/>
<circle fill="rgba(248,118,109,0.76)" cx="104.6" cy="360" r="7.0"/>
<circle fill="rgba(248,118,109,0.76)" cx="104.6" cy="366" r="7.0"/>
<circle fill="rgba(248,118,109,0.76)" cx="104.6" cy="372" r="7.0"/>
<circle fill="rgba(248,118,109,0.76)" cx="128" cy="246" r="7.0"/>
<circle fill="rgba(248,118,109,0.76)" cx="128" cy="251.3" r="7.0"/>
<circle fill="rgba(248,118,109,0.76)" cx="128" cy="256.7" r="7.0"/>
<circle fill="rgba(248,118,109,0.76)" cx="128" cy="262" r="7.0"/>
<circle fill="rgba(248,118,109,0.76)" cx="128" cy="280" r="7.0"/>
<circle fill="rgba(248,118,109,0.76)" cx="128" cy="286.1" r="7.0"/>
<circle fill="rgba(248,118,109,0.76)" cx="128" cy="292.2" r="7.0"/>
<circle fill="rgba(248,118,109,0.76)" cx="128" cy="298.3" r="7.0"/>
<circle fill="rgba(248,118,109,0.76)" cx="128" cy="304.4" r="7.0"/>
<circle fill="rgba(248,118,109,0.76)" cx="128" cy="310.6" r="7.0"/>
<circle fill="rgba(248,118,109,0.76)" cx="128" cy="316.7" r="7.0"/>
<circle fill="rgba(248,118,109,0.76)" cx="128" cy="322.8" r="7.0"/>
<circle fill="rgba(248,118,109,0.76)" cx="128" cy="328.9" r="7.0"/>
<circle fill="rgba(248,118,109,0.76)" cx="128" cy="335" r="7.0"/>
<circle fill="rgba(248,118,109,0.76)" cx="128" cy="352" r="7.0"/>
<circle fill="rgba(248,118,109,0.76)" cx="128" cy="358.5" r="7.0"/>
<circle fill="rgba(248,118,109,0.76)" cx="128" cy="365" r="7.0"/>
<circle fill="rgba(248,118,109,0.76)" cx="128" cy="371.5" r="7.0"/>
<circle fill="rgba(248,118,109,0.76)" cx="128" cy="378" r="7.0"/>
<circle fill="rgba(248,118,109,0.76)" cx="151.8" cy="228" r="7.0"/>
<circle fill="rgba(248,118,109,0.76)" cx="151.8" cy="234.2" r="7.0"/>
<circle fill="rgba(248,118,109,0.76)" cx="151.8" cy="240.3" r="7.0"/>
<circle fill="rgba(248,118,109,0.76)" cx="151.8" cy="246.5" r="7.0"/>
<circle fill="rgba(248,118,109,0.76)" cx="151.8" cy="252.7" r="7.0"/>
<circle fill="rgba(248,118,109,0.76)" cx="151.8" cy="258.8" r="7.0"/>
<circle fill="rgba(248,118,109,0.76)" cx="151.8" cy="265" r="7.0"/>
<circle fill="rgba(248,118,109,0.76)" cx="151.8" cy="285" r="7.0"/>
<circle fill="rgba(248,118,109,0.76)" cx="151.8" cy="290.5" r="7.0"/>
<circle fill="rgba(248,118,109,0.76)" cx="151.8" cy="296" r="7.0"/>
<circle fill="rgba(248,118,109,0.76)" cx="151.8" cy="301.5" r="7.0"/>
<circle fill="rgba(248,118,109,0.76)" cx="151.8" cy="307" r="7.0"/>
<circle fill="rgba(248,118,109,0.76)" cx="151.8" cy="312.5" r="7.0"/>
<circle fill="rgba(248,118,109,0.76)" cx="151.8" cy="318" r="7.0"/>
<circle fill="rgba(248,118,109,0.76)" cx="151.8" cy="330" r="7.0"/>
<circle fill="rgba(248,118,109,0.76)" cx="151.8" cy="336" r="7.0"/>
<circle fill="rgba(248,118,109,0.76)" cx="151.8" cy="342" r="7.0"/>
<circle fill="rgba(248,118,109,0.76)" cx="151.8" cy="348" r="7.0"/>
<circle fill="rgba(248,118,109,0.76)" cx="151.8" cy="354" r="7.0"/>
<circle fill="rgba(248,118,109,0.76)" cx="151.8" cy="360" r="7.0"/>
<circle fill="rgba(248,118,109,0.76)" cx="151.8" cy="366" r="7.0"/>
<circle fill="rgba(248,118,109,0.76)" cx="151.8" cy="372" r="7.0"/>
<circle fill="rgba(248,118,109,0.76)" cx="175" cy="262" r="7.0"/>
<circle fill="rgba(248,118,109,0.76)" cx="175" cy="267.9" r="7.0"/>
<circle fill="rgba(248,118,109,0.76)" cx="175" cy="273.9" r="7.0"/>
<circle fill="rgba(248,118,109,0.76)" cx="175" cy="279.8" r="7.0"/>
<circle fill="rgba(248,118,109,0.76)" cx="175" cy="285.7" r="7.0"/>
<circle fill="rgba(248,118,109,0.76)" cx="175" cy="291.6" r="7.0"/>
<circle fill="rgba(248,118,109,0.76)" cx="175" cy="297.6" r="7.0"/>
<circle fill="rgba(248,118,109,0.76)" cx="175" cy="303.5" r="7.0"/>
<circle fill="rgba(248,118,109,0.76)" cx="175" cy="309.4" r="7.0"/>
<circle fill="rgba(248,118,109,0.76)" cx="175" cy="315.4" r="7.0"/>
<circle fill="rgba(248,118,109,0.76)" cx="175" cy="321.3" r="7.0"/>
<circle fill="rgba(248,118,109,0.76)" cx="175" cy="327.2" r="7.0"/>
<circle fill="rgba(248,118,109,0.76)" cx="175" cy="333.1" r="7.0"/>
<circle fill="rgba(248,118,109,0.76)" cx="175" cy="339.1" r="7.0"/>
<circle fill="rgba(248,118,109,0.76)" cx="175" cy="345" r="7.0"/>
<circle fill="rgba(248,118,109,0.76)" cx="198" cy="345" r="7.0"/>
<circle fill="rgba(248,118,109,0.76)" cx="198" cy="352" r="7.0"/>
<circle fill="rgba(248,118,109,0.76)" cx="209.9" cy="231.1" r="7.0"/>
<circle fill="rgba(248,118,109,0.76)" cx="209.9" cy="245.2" r="7.0"/>
<circle fill="rgba(248,118,109,0.76)" cx="209.9" cy="252.2" r="7.0"/>
<circle fill="rgba(248,118,109,0.76)" cx="209.9" cy="259.3" r="7.0"/>
<circle fill="rgba(248,118,109,0.76)" cx="209.9" cy="273.4" r="7.0"/>
<circle fill="rgba(248,118,109,0.76)" cx="209.9" cy="280.5" r="7.0"/>
<circle fill="rgba(248,118,109,0.76)" cx="209.9" cy="287.5" r="7.0"/>
<circle fill="rgba(248,118,109,0.76)" cx="209.9" cy="294.6" r="7.0"/>
<circle fill="rgba(248,118,109,0.76)" cx="209.9" cy="301.6" r="7.0"/>
<circle fill="rgba(248,118,109,0.76)" cx="209.9" cy="308.7" r="7.0"/>
<circle fill="rgba(248,118,109,0.76)" cx="209.9" cy="315.8" r="7.0"/>
<circle fill="rgba(248,118,109,0.76)" cx="209.9" cy="322.8" r="7.0"/>
<circle fill="rgba(248,118,109,0.76)" cx="209.9" cy="329.9" r="7.0"/>
<circle fill="rgba(248,118,109,0.76)" cx="209.9" cy="336.9" r="7.0"/>
<circle fill="rgba(248,118,109,0.76)" cx="209.9" cy="344" r="7.0"/>
<circle fill="rgba(248,118,109,0.76)" cx="221.5" cy="262" r="7.0"/>
<circle fill="rgba(248,118,109,0.76)" cx="221.5" cy="271.5" r="7.0"/>
<circle fill="rgba(248,118,109,0.76)" cx="221.5" cy="281" r="7.0"/>
<circle fill="rgba(248,118,109,0.76)" cx="221.5" cy="290.5" r="7.0"/>
<circle fill="rgba(248,118,109,0.76)" cx="221.5" cy="300" r="7.0"/>
<circle fill="rgba(248,118,109,0.76)" cx="221.5" cy="318" r="7.0"/>
<circle fill="rgba(248,118,109,0.76)" cx="221.5" cy="327" r="7.0"/>
<circle fill="rgba(248,118,109,0.76)" cx="221.5" cy="336" r="7.0"/>
<circle fill="rgba(248,118,109,0.76)" cx="222" cy="362.7" r="7.0"/>
<circle fill="rgba(248,118,109,0.76)" cx="176" cy="300" r="7.0"/>
<circle fill="rgba(248,118,109,0.76)" cx="176" cy="320" r="7.0"/>
<circle fill="rgba(248,118,109,0.76)" cx="104" cy="290" r="7.0"/>
<circle fill="rgba(248,118,109,0.76)" cx="128" cy="270" r="7.0"/>
<circle fill="rgba(248,118,109,0.76)" cx="257.3" cy="170" r="7.0"/>
<circle fill="rgba(248,118,109,0.76)" cx="257.3" cy="212.6" r="7.0"/>
<circle fill="rgba(248,118,109,0.76)" cx="258.1" cy="239.4" r="7.0"/>
<circle fill="rgba(248,118,109,0.76)" cx="303.3" cy="267" r="7.0"/>
<circle fill="rgba(248,118,109,0.76)" cx="296.6" cy="280.3" r="7.0"/>
<polygon points="70,316.4 78.2,314.5 86.4,312.5 94.5,310.5 102.7,308.5 110.9,306.4 119.1,304.3 127.3,302.2 135.5,300 143.7,297.8 151.9,295.4 160,293 168.2,290.4 176.4,287.8 184.6,285.1 192.8,282.4 201,279.7 209.2,276.9 217.3,274.1 225.5,271.3 233.7,268.4 241.9,265.6 250.1,262.8 258.3,259.9 266.5,257.1 274.7,254.2 282.8,251.3 291,248.5 299.2,245.6 307.4,242.7 315.6,239.9 323.8,237 332,234.1 340.1,231.3 348.3,228.4 356.5,225.5 364.7,222.6 372.9,219.8 381.1,216.9 389.3,214 397.5,211.1 397.5,240.7 389.3,242.6 381.1,244.6 372.9,246.5 364.7,248.4 356.5,250.3 348.3,252.2 340.1,254.2 332,256.1 323.8,258 315.6,260 307.4,261.9 299.2,263.8 291,265.7 282.8,267.7 274.7,269.6 266.5,271.6 258.3,273.5 250.1,275.5 241.9,277.4 233.7,279.4 225.5,281.3 217.3,283.3 209.2,285.3 201,287.3 192.8,289.4 184.6,291.5 176.4,293.6 168.2,295.8 160,298.1 151.9,300.4 143.7,302.9 135.5,305.4 127.3,308 119.1,310.7 110.9,313.4 102.7,316.1 94.5,318.9 86.4,321.7 78.2,324.5 70,327.4" fill="rgba(210,210,210,0.65)"/>
<line x1="70" y1="321.9" x2="397.5" y2="225.9" stroke="#4682b4" stroke-width="3"/>
</g>
<line x1="140.2" y1="396.2" x2="140.2" y2="400.2" stroke="#333" stroke-width="1.1"/>
<text class="tk" x="140.2" y="414.7" text-anchor="middle">4</text>
<line x1="233.7" y1="396.2" x2="233.7" y2="400.2" stroke="#333" stroke-width="1.1"/>
<text class="tk" x="233.7" y="414.7" text-anchor="middle">8</text>
<line x1="327.3" y1="396.2" x2="327.3" y2="400.2" stroke="#333" stroke-width="1.1"/>
<text class="tk" x="327.3" y="414.7" text-anchor="middle">12</text>
<line x1="49.6" y1="283.4" x2="53.6" y2="283.4" stroke="#333" stroke-width="1.1"/>
<text class="tk" x="46.4" y="289" text-anchor="end">10</text>
<line x1="49.6" y1="166.8" x2="53.6" y2="166.8" stroke="#333" stroke-width="1.1"/>
<text class="tk" x="46.4" y="172.4" text-anchor="end">20</text>
<line x1="49.6" y1="50.2" x2="53.6" y2="50.2" stroke="#333" stroke-width="1.1"/>
<text class="tk" x="46.4" y="55.8" text-anchor="end">30</text>
<text class="ax" x="233.9" y="435.6" text-anchor="middle">Species richness</text>
<text class="ax" transform="translate(22.3,218) rotate(-90)" x="0" y="0" text-anchor="middle">Ecosystem stability</text>
<text class="lb" x="13.4" y="24">(a)</text>
<text class="eq" x="379.2" y="105.3" text-anchor="end"><tspan font-style="italic">y</tspan> = 6.11 + 0.588 <tspan font-style="italic">x</tspan></text>
<text class="eq" x="236.9" y="134.6"><tspan font-style="italic">P</tspan> < 0.001</text>
<text class="eq" x="377.1" y="134.6" text-anchor="end"><tspan font-style="italic">R</tspan><tspan dy="-8.5" font-size="13">2</tspan><tspan dy="8.5"> = 0.11</tspan></text>
<clipPath id="clipb"><rect x="487.3" y="39.8" width="349.6" height="356.4"/></clipPath>
<rect x="487.3" y="8" width="349.6" height="31.8" fill="#d9d9d9"/>
<text class="st" x="662.1" y="31.8" text-anchor="middle">Coastal region</text>
<rect x="487.3" y="39.8" width="349.6" height="356.4" fill="#ebebeb"/>
<g clip-path="url(#clipb)">
<line x1="512.8" y1="39.8" x2="512.8" y2="396.2" stroke="#fff" stroke-width="0.6" opacity="0.9"/>
<line x1="612.3" y1="39.8" x2="612.3" y2="396.2" stroke="#fff" stroke-width="0.6" opacity="0.9"/>
<line x1="711.7" y1="39.8" x2="711.7" y2="396.2" stroke="#fff" stroke-width="0.6" opacity="0.9"/>
<line x1="811.2" y1="39.8" x2="811.2" y2="396.2" stroke="#fff" stroke-width="0.6" opacity="0.9"/>
<line x1="487.3" y1="394.1" x2="836.9" y2="394.1" stroke="#fff" stroke-width="0.6" opacity="0.9"/>
<line x1="487.3" y1="315.2" x2="836.9" y2="315.2" stroke="#fff" stroke-width="0.6" opacity="0.9"/>
<line x1="487.3" y1="236.3" x2="836.9" y2="236.3" stroke="#fff" stroke-width="0.6" opacity="0.9"/>
<line x1="487.3" y1="157.4" x2="836.9" y2="157.4" stroke="#fff" stroke-width="0.6" opacity="0.9"/>
<line x1="487.3" y1="78.6" x2="836.9" y2="78.6" stroke="#fff" stroke-width="0.6" opacity="0.9"/>
<line x1="562.6" y1="39.8" x2="562.6" y2="396.2" stroke="#fff" stroke-width="1.2"/>
<line x1="662" y1="39.8" x2="662" y2="396.2" stroke="#fff" stroke-width="1.2"/>
<line x1="761.5" y1="39.8" x2="761.5" y2="396.2" stroke="#fff" stroke-width="1.2"/>
<line x1="487.3" y1="354.6" x2="836.9" y2="354.6" stroke="#fff" stroke-width="1.2"/>
<line x1="487.3" y1="275.8" x2="836.9" y2="275.8" stroke="#fff" stroke-width="1.2"/>
<line x1="487.3" y1="196.9" x2="836.9" y2="196.9" stroke="#fff" stroke-width="1.2"/>
<line x1="487.3" y1="118" x2="836.9" y2="118" stroke="#fff" stroke-width="1.2"/>
<circle fill="rgba(248,118,109,0.76)" cx="503.2" cy="56.1" r="7.0"/>
<circle fill="rgba(248,118,109,0.76)" cx="503.2" cy="111.9" r="7.0"/>
<circle fill="rgba(248,118,109,0.76)" cx="503.2" cy="127" r="7.0"/>
<circle fill="rgba(248,118,109,0.76)" cx="503.2" cy="148.2" r="7.0"/>
<circle fill="rgba(248,118,109,0.76)" cx="503.2" cy="166.1" r="7.0"/>
<circle fill="rgba(248,118,109,0.76)" cx="503.2" cy="184" r="7.0"/>
<circle fill="rgba(248,118,109,0.76)" cx="503.2" cy="186.5" r="7.0"/>
<circle fill="rgba(248,118,109,0.76)" cx="503.2" cy="198.4" r="7.0"/>
<circle fill="rgba(248,118,109,0.76)" cx="503.2" cy="208.5" r="7.0"/>
<circle fill="rgba(248,118,109,0.76)" cx="503.2" cy="220.7" r="7.0"/>
<circle fill="rgba(248,118,109,0.76)" cx="503.2" cy="223.5" r="7.0"/>
<circle fill="rgba(248,118,109,0.76)" cx="503.2" cy="244.6" r="7.0"/>
<circle fill="rgba(248,118,109,0.76)" cx="503.2" cy="247" r="7.0"/>
<circle fill="rgba(248,118,109,0.76)" cx="543.1" cy="184.4" r="7.0"/>
<circle fill="rgba(248,118,109,0.76)" cx="543.1" cy="203.5" r="7.0"/>
<circle fill="rgba(248,118,109,0.76)" cx="556.1" cy="178.3" r="7.0"/>
<circle fill="rgba(248,118,109,0.76)" cx="582.4" cy="114.3" r="7.0"/>
<circle fill="rgba(248,118,109,0.76)" cx="582.4" cy="167.9" r="7.0"/>
<circle fill="rgba(248,118,109,0.76)" cx="635.7" cy="216.2" r="7.0"/>
<circle fill="rgba(248,118,109,0.76)" cx="529.3" cy="248" r="7.0"/>
<circle fill="rgba(248,118,109,0.76)" cx="543.1" cy="255.8" r="7.0"/>
<circle fill="rgba(248,118,109,0.76)" cx="543.1" cy="303.7" r="7.0"/>
<circle fill="rgba(248,118,109,0.76)" cx="582.4" cy="248" r="7.0"/>
<circle fill="rgba(248,118,109,0.76)" cx="582.4" cy="333.8" r="7.0"/>
<circle fill="rgba(248,118,109,0.76)" cx="582.4" cy="341.6" r="7.0"/>
<circle fill="rgba(248,118,109,0.76)" cx="595.8" cy="349" r="7.0"/>
<circle fill="rgba(248,118,109,0.76)" cx="609.2" cy="372.9" r="7.0"/>
<circle fill="rgba(248,118,109,0.76)" cx="622.3" cy="322.7" r="7.0"/>
<circle fill="rgba(248,118,109,0.76)" cx="622.3" cy="379.1" r="7.0"/>
<circle fill="rgba(248,118,109,0.76)" cx="661.9" cy="294.8" r="7.0"/>
<circle fill="rgba(248,118,109,0.76)" cx="661.9" cy="361.6" r="7.0"/>
<circle fill="rgba(248,118,109,0.76)" cx="701.9" cy="83.4" r="7.0"/>
<circle fill="rgba(248,118,109,0.76)" cx="675" cy="108.8" r="7.0"/>
<circle fill="rgba(248,118,109,0.76)" cx="781.5" cy="192.7" r="7.0"/>
<circle fill="rgba(248,118,109,0.76)" cx="702" cy="209.4" r="7.0"/>
<circle fill="rgba(248,118,109,0.76)" cx="821.7" cy="217.4" r="7.0"/>
<circle fill="rgba(248,118,109,0.76)" cx="821.7" cy="244.6" r="7.0"/>
<circle fill="rgba(248,118,109,0.76)" cx="715.4" cy="280.7" r="7.0"/>
<circle fill="rgba(248,118,109,0.76)" cx="702" cy="331.5" r="7.0"/>
<circle fill="rgba(248,118,109,0.76)" cx="781.1" cy="323.1" r="7.0"/>
<circle fill="rgba(248,118,109,0.76)" cx="781.1" cy="367.2" r="7.0"/>
<circle fill="rgba(248,118,109,0.76)" cx="503.2" cy="264.7" r="7.0"/>
<circle fill="rgba(248,118,109,0.76)" cx="503.2" cy="270.6" r="7.0"/>
<circle fill="rgba(248,118,109,0.76)" cx="503.2" cy="276.5" r="7.0"/>
<circle fill="rgba(248,118,109,0.76)" cx="503.2" cy="282.4" r="7.0"/>
<circle fill="rgba(248,118,109,0.76)" cx="503.2" cy="288.2" r="7.0"/>
<circle fill="rgba(248,118,109,0.76)" cx="503.2" cy="294.1" r="7.0"/>
<circle fill="rgba(248,118,109,0.76)" cx="503.2" cy="300" r="7.0"/>
<circle fill="rgba(248,118,109,0.76)" cx="503.2" cy="306" r="7.0"/>
<circle fill="rgba(248,118,109,0.76)" cx="503.2" cy="312" r="7.0"/>
<circle fill="rgba(248,118,109,0.76)" cx="503.2" cy="318" r="7.0"/>
<circle fill="rgba(248,118,109,0.76)" cx="503.2" cy="324" r="7.0"/>
<circle fill="rgba(248,118,109,0.76)" cx="503.2" cy="330" r="7.0"/>
<circle fill="rgba(248,118,109,0.76)" cx="503.2" cy="338" r="7.0"/>
<circle fill="rgba(248,118,109,0.76)" cx="503.2" cy="343.3" r="7.0"/>
<circle fill="rgba(248,118,109,0.76)" cx="503.2" cy="348.7" r="7.0"/>
<circle fill="rgba(248,118,109,0.76)" cx="503.2" cy="354" r="7.0"/>
<circle fill="rgba(248,118,109,0.76)" cx="503.2" cy="359.4" r="7.0"/>
<circle fill="rgba(248,118,109,0.76)" cx="503.2" cy="364.7" r="7.0"/>
<circle fill="rgba(248,118,109,0.76)" cx="503.2" cy="370" r="7.0"/>
<circle fill="rgba(248,118,109,0.76)" cx="503.2" cy="375.4" r="7.0"/>
<circle fill="rgba(248,118,109,0.76)" cx="503.2" cy="380.7" r="7.0"/>
<polygon points="502.9,263.6 510.8,263.2 518.8,262.6 526.7,262 534.7,261.3 542.7,260.4 550.6,259.5 558.6,258.5 566.5,257.4 574.5,256.2 582.4,254.9 590.4,253.5 598.4,252.1 606.3,250.6 614.3,249 622.2,247.5 630.2,245.8 638.1,244.2 646.1,242.5 654,240.8 662,239 670,237.2 677.9,235.4 685.9,233.6 693.8,231.8 701.8,230 709.7,228.1 717.7,226.2 725.6,224.4 733.6,222.5 741.6,220.6 749.5,218.7 757.5,216.8 765.4,214.9 773.4,212.9 781.3,211 789.3,209.1 797.3,207.1 805.2,205.2 813.2,203.3 821.1,201.3 821.1,294.9 813.2,294.5 805.2,294.1 797.3,293.8 789.3,293.4 781.3,293 773.4,292.7 765.4,292.3 757.5,292 749.5,291.6 741.6,291.3 733.6,291 725.6,290.6 717.7,290.3 709.7,290 701.8,289.7 693.8,289.5 685.9,289.2 677.9,289 670,288.7 662,288.5 654,288.3 646.1,288.2 638.1,288 630.2,287.9 622.2,287.9 614.3,287.9 606.3,287.9 598.4,288 590.4,288.1 582.4,288.3 574.5,288.6 566.5,288.9 558.6,289.4 550.6,289.9 542.7,290.5 534.7,291.3 526.7,292.1 518.8,293 510.8,294.1 502.9,295.2" fill="rgba(210,210,210,0.65)"/>
<line x1="502.9" y1="279.4" x2="821.1" y2="248.1" stroke="#4682b4" stroke-width="3" stroke-dasharray="11.94 11.94"/>
</g>
<line x1="562.6" y1="396.2" x2="562.6" y2="400.2" stroke="#333" stroke-width="1.1"/>
<text class="tk" x="562.6" y="414.7" text-anchor="middle">2.5</text>
<line x1="662" y1="396.2" x2="662" y2="400.2" stroke="#333" stroke-width="1.1"/>
<text class="tk" x="662" y="414.7" text-anchor="middle">5.0</text>
<line x1="761.5" y1="396.2" x2="761.5" y2="400.2" stroke="#333" stroke-width="1.1"/>
<text class="tk" x="761.5" y="414.7" text-anchor="middle">7.5</text>
<line x1="483.3" y1="354.6" x2="487.3" y2="354.6" stroke="#333" stroke-width="1.1"/>
<text class="tk" x="480.1" y="360.2" text-anchor="end">2.5</text>
<line x1="483.3" y1="275.8" x2="487.3" y2="275.8" stroke="#333" stroke-width="1.1"/>
<text class="tk" x="480.1" y="281.4" text-anchor="end">5.0</text>
<line x1="483.3" y1="196.9" x2="487.3" y2="196.9" stroke="#333" stroke-width="1.1"/>
<text class="tk" x="480.1" y="202.5" text-anchor="end">7.5</text>
<line x1="483.3" y1="118" x2="487.3" y2="118" stroke="#333" stroke-width="1.1"/>
<text class="tk" x="480.1" y="123.6" text-anchor="end">10.0</text>
<text class="ax" x="662.1" y="435.6" text-anchor="middle">Species richness</text>
<text class="ax" transform="translate(445,218) rotate(-90)" x="0" y="0" text-anchor="middle">Ecosystem stability</text>
<text class="lb" x="436.1" y="24">(b)</text>
<text class="eq" x="801.9" y="105.3" text-anchor="end"><tspan font-style="italic">y</tspan> = 4.76 + 0.124 <tspan font-style="italic">x</tspan></text>
<text class="eq" x="659.6" y="134.6"><tspan font-style="italic">P</tspan> = 0.339</text>
<text class="eq" x="799.8" y="134.6" text-anchor="end"><tspan font-style="italic">R</tspan><tspan dy="-8.5" font-size="13">2</tspan><tspan dy="8.5"> = 0.01</tspan></text>
<clipPath id="clipc"><rect x="898.8" y="39.8" width="361" height="356.4"/></clipPath>
<rect x="898.8" y="8" width="361" height="31.8" fill="#d9d9d9"/>
<text class="st" x="1079.3" y="31.8" text-anchor="middle">Subtropical humid zone</text>
<rect x="898.8" y="39.8" width="361" height="356.4" fill="#ebebeb"/>
<g clip-path="url(#clipc)">
<line x1="925.2" y1="39.8" x2="925.2" y2="396.2" stroke="#fff" stroke-width="0.6" opacity="0.9"/>
<line x1="1027.8" y1="39.8" x2="1027.8" y2="396.2" stroke="#fff" stroke-width="0.6" opacity="0.9"/>
<line x1="1130.4" y1="39.8" x2="1130.4" y2="396.2" stroke="#fff" stroke-width="0.6" opacity="0.9"/>
<line x1="1233" y1="39.8" x2="1233" y2="396.2" stroke="#fff" stroke-width="0.6" opacity="0.9"/>
<line x1="898.8" y1="341.8" x2="1259.8" y2="341.8" stroke="#fff" stroke-width="0.6" opacity="0.9"/>
<line x1="898.8" y1="225.4" x2="1259.8" y2="225.4" stroke="#fff" stroke-width="0.6" opacity="0.9"/>
<line x1="898.8" y1="109.1" x2="1259.8" y2="109.1" stroke="#fff" stroke-width="0.6" opacity="0.9"/>
<line x1="976.5" y1="39.8" x2="976.5" y2="396.2" stroke="#fff" stroke-width="1.2"/>
<line x1="1079.1" y1="39.8" x2="1079.1" y2="396.2" stroke="#fff" stroke-width="1.2"/>
<line x1="1181.7" y1="39.8" x2="1181.7" y2="396.2" stroke="#fff" stroke-width="1.2"/>
<line x1="898.8" y1="283.6" x2="1259.8" y2="283.6" stroke="#fff" stroke-width="1.2"/>
<line x1="898.8" y1="167.2" x2="1259.8" y2="167.2" stroke="#fff" stroke-width="1.2"/>
<line x1="898.8" y1="50.9" x2="1259.8" y2="50.9" stroke="#fff" stroke-width="1.2"/>
<circle fill="rgba(248,118,109,0.76)" cx="915.4" cy="56.1" r="7.0"/>
<circle fill="rgba(248,118,109,0.76)" cx="915.4" cy="148.2" r="7.0"/>
<circle fill="rgba(248,118,109,0.76)" cx="915.4" cy="177.2" r="7.0"/>
<circle fill="rgba(248,118,109,0.76)" cx="915.4" cy="180.6" r="7.0"/>
<circle fill="rgba(248,118,109,0.76)" cx="997.3" cy="125.2" r="7.0"/>
<circle fill="rgba(248,118,109,0.76)" cx="1038.1" cy="202.9" r="7.0"/>
<circle fill="rgba(248,118,109,0.76)" cx="1038.1" cy="224" r="7.0"/>
<circle fill="rgba(248,118,109,0.76)" cx="1038.1" cy="227" r="7.0"/>
<circle fill="rgba(248,118,109,0.76)" cx="997.3" cy="227.4" r="7.0"/>
<circle fill="rgba(248,118,109,0.76)" cx="1077.6" cy="177.2" r="7.0"/>
<circle fill="rgba(248,118,109,0.76)" cx="915.2" cy="242.4" r="7.0"/>
<circle fill="rgba(248,118,109,0.76)" cx="915.2" cy="264.7" r="7.0"/>
<circle fill="rgba(248,118,109,0.76)" cx="915.2" cy="277.6" r="7.0"/>
<circle fill="rgba(248,118,109,0.76)" cx="915.2" cy="298" r="7.0"/>
<circle fill="rgba(248,118,109,0.76)" cx="915.2" cy="304" r="7.0"/>
<circle fill="rgba(248,118,109,0.76)" cx="915.2" cy="310" r="7.0"/>
<circle fill="rgba(248,118,109,0.76)" cx="915.2" cy="316" r="7.0"/>
<circle fill="rgba(248,118,109,0.76)" cx="915.2" cy="339.4" r="7.0"/>
<circle fill="rgba(248,118,109,0.76)" cx="915.2" cy="347.2" r="7.0"/>
<circle fill="rgba(248,118,109,0.76)" cx="915.2" cy="365" r="7.0"/>
<circle fill="rgba(248,118,109,0.76)" cx="915.2" cy="371.5" r="7.0"/>
<circle fill="rgba(248,118,109,0.76)" cx="915.2" cy="378.4" r="7.0"/>
<circle fill="rgba(248,118,109,0.76)" cx="935.7" cy="307" r="7.0"/>
<circle fill="rgba(248,118,109,0.76)" cx="935.7" cy="311.5" r="7.0"/>
<circle fill="rgba(248,118,109,0.76)" cx="955.8" cy="251.3" r="7.0"/>
<circle fill="rgba(248,118,109,0.76)" cx="955.8" cy="255.5" r="7.0"/>
<circle fill="rgba(248,118,109,0.76)" cx="955.8" cy="260.2" r="7.0"/>
<circle fill="rgba(248,118,109,0.76)" cx="955.8" cy="274.7" r="7.0"/>
<circle fill="rgba(248,118,109,0.76)" cx="955.8" cy="292.5" r="7.0"/>
<circle fill="rgba(248,118,109,0.76)" cx="955.8" cy="303.7" r="7.0"/>
<circle fill="rgba(248,118,109,0.76)" cx="955.8" cy="309.3" r="7.0"/>
<circle fill="rgba(248,118,109,0.76)" cx="955.8" cy="340.5" r="7.0"/>
<circle fill="rgba(248,118,109,0.76)" cx="955.8" cy="347" r="7.0"/>
<circle fill="rgba(248,118,109,0.76)" cx="955.8" cy="353.8" r="7.0"/>
<circle fill="rgba(248,118,109,0.76)" cx="955.8" cy="365" r="7.0"/>
<circle fill="rgba(248,118,109,0.76)" cx="955.8" cy="371.5" r="7.0"/>
<circle fill="rgba(248,118,109,0.76)" cx="955.8" cy="378.4" r="7.0"/>
<circle fill="rgba(248,118,109,0.76)" cx="973.6" cy="304.8" r="7.0"/>
<circle fill="rgba(248,118,109,0.76)" cx="975.9" cy="310.4" r="7.0"/>
<circle fill="rgba(248,118,109,0.76)" cx="983" cy="359.4" r="7.0"/>
<circle fill="rgba(248,118,109,0.76)" cx="996.6" cy="229" r="7.0"/>
<circle fill="rgba(248,118,109,0.76)" cx="996.6" cy="235.7" r="7.0"/>
<circle fill="rgba(248,118,109,0.76)" cx="996.6" cy="278" r="7.0"/>
<circle fill="rgba(248,118,109,0.76)" cx="996.6" cy="293.6" r="7.0"/>
<circle fill="rgba(248,118,109,0.76)" cx="996.6" cy="301" r="7.0"/>
<circle fill="rgba(248,118,109,0.76)" cx="996.6" cy="308" r="7.0"/>
<circle fill="rgba(248,118,109,0.76)" cx="996.6" cy="316" r="7.0"/>
<circle fill="rgba(248,118,109,0.76)" cx="996.6" cy="331.5" r="7.0"/>
<circle fill="rgba(248,118,109,0.76)" cx="996.6" cy="335.4" r="7.0"/>
<circle fill="rgba(248,118,109,0.76)" cx="996.6" cy="339.4" r="7.0"/>
<circle fill="rgba(248,118,109,0.76)" cx="996.6" cy="343.3" r="7.0"/>
<circle fill="rgba(248,118,109,0.76)" cx="996.6" cy="347.3" r="7.0"/>
<circle fill="rgba(248,118,109,0.76)" cx="996.6" cy="351.2" r="7.0"/>
<circle fill="rgba(248,118,109,0.76)" cx="996.6" cy="355.2" r="7.0"/>
<circle fill="rgba(248,118,109,0.76)" cx="996.6" cy="359.1" r="7.0"/>
<circle fill="rgba(248,118,109,0.76)" cx="996.6" cy="363.1" r="7.0"/>
<circle fill="rgba(248,118,109,0.76)" cx="996.6" cy="367" r="7.0"/>
<circle fill="rgba(248,118,109,0.76)" cx="996.6" cy="371" r="7.0"/>
<circle fill="rgba(248,118,109,0.76)" cx="996.6" cy="374.9" r="7.0"/>
<circle fill="rgba(248,118,109,0.76)" cx="996.6" cy="378.9" r="7.0"/>
<circle fill="rgba(248,118,109,0.76)" cx="996.6" cy="382.8" r="7.0"/>
<circle fill="rgba(248,118,109,0.76)" cx="1017.8" cy="304.8" r="7.0"/>
<circle fill="rgba(248,118,109,0.76)" cx="1024.3" cy="349.4" r="7.0"/>
<circle fill="rgba(248,118,109,0.76)" cx="1022" cy="377.3" r="7.0"/>
<circle fill="rgba(248,118,109,0.76)" cx="1037.9" cy="246.8" r="7.0"/>
<circle fill="rgba(248,118,109,0.76)" cx="1037.9" cy="278" r="7.0"/>
<circle fill="rgba(248,118,109,0.76)" cx="1037.9" cy="285" r="7.0"/>
<circle fill="rgba(248,118,109,0.76)" cx="1037.9" cy="291" r="7.0"/>
<circle fill="rgba(248,118,109,0.76)" cx="1037.9" cy="298" r="7.0"/>
<circle fill="rgba(248,118,109,0.76)" cx="1037.9" cy="304.8" r="7.0"/>
<circle fill="rgba(248,118,109,0.76)" cx="1037.9" cy="331.5" r="7.0"/>
<circle fill="rgba(248,118,109,0.76)" cx="1037.9" cy="335.6" r="7.0"/>
<circle fill="rgba(248,118,109,0.76)" cx="1037.9" cy="339.7" r="7.0"/>
<circle fill="rgba(248,118,109,0.76)" cx="1037.9" cy="343.8" r="7.0"/>
<circle fill="rgba(248,118,109,0.76)" cx="1037.9" cy="347.9" r="7.0"/>
<circle fill="rgba(248,118,109,0.76)" cx="1037.9" cy="352" r="7.0"/>
<circle fill="rgba(248,118,109,0.76)" cx="1037.9" cy="356.1" r="7.0"/>
<circle fill="rgba(248,118,109,0.76)" cx="1037.9" cy="360.1" r="7.0"/>
<circle fill="rgba(248,118,109,0.76)" cx="1037.9" cy="364.2" r="7.0"/>
<circle fill="rgba(248,118,109,0.76)" cx="1037.9" cy="368.3" r="7.0"/>
<circle fill="rgba(248,118,109,0.76)" cx="1037.9" cy="372.4" r="7.0"/>
<circle fill="rgba(248,118,109,0.76)" cx="1037.9" cy="376.5" r="7.0"/>
<circle fill="rgba(248,118,109,0.76)" cx="1037.9" cy="380.6" r="7.0"/>
<circle fill="rgba(248,118,109,0.76)" cx="1058.4" cy="266.9" r="7.0"/>
<circle fill="rgba(248,118,109,0.76)" cx="1058.4" cy="287" r="7.0"/>
<circle fill="rgba(248,118,109,0.76)" cx="1056" cy="295.9" r="7.0"/>
<circle fill="rgba(248,118,109,0.76)" cx="1058.4" cy="346" r="7.0"/>
<circle fill="rgba(248,118,109,0.76)" cx="1078.5" cy="290.7" r="7.0"/>
<circle fill="rgba(248,118,109,0.76)" cx="1078.5" cy="297" r="7.0"/>
<circle fill="rgba(248,118,109,0.76)" cx="1078.5" cy="303" r="7.0"/>
<circle fill="rgba(248,118,109,0.76)" cx="1078.5" cy="310" r="7.0"/>
<circle fill="rgba(248,118,109,0.76)" cx="1078.5" cy="316" r="7.0"/>
<circle fill="rgba(248,118,109,0.76)" cx="1078.5" cy="328.3" r="7.0"/>
<circle fill="rgba(248,118,109,0.76)" cx="1078.5" cy="342.2" r="7.0"/>
<circle fill="rgba(248,118,109,0.76)" cx="1078.5" cy="357.5" r="7.0"/>
<circle fill="rgba(248,118,109,0.76)" cx="1078.5" cy="365.9" r="7.0"/>
<circle fill="rgba(248,118,109,0.76)" cx="1078.5" cy="379.8" r="7.0"/>
<circle fill="rgba(248,118,109,0.76)" cx="1119.9" cy="272" r="7.0"/>
<circle fill="rgba(248,118,109,0.76)" cx="1119.9" cy="308.8" r="7.0"/>
<circle fill="rgba(248,118,109,0.76)" cx="1119.9" cy="317" r="7.0"/>
<circle fill="rgba(248,118,109,0.76)" cx="1119.9" cy="331" r="7.0"/>
<circle fill="rgba(248,118,109,0.76)" cx="1119.9" cy="340.8" r="7.0"/>
<circle fill="rgba(248,118,109,0.76)" cx="1119.9" cy="365.9" r="7.0"/>
<circle fill="rgba(248,118,109,0.76)" cx="1119.9" cy="370" r="7.0"/>
<circle fill="rgba(248,118,109,0.76)" cx="1160.8" cy="314.3" r="7.0"/>
<circle fill="rgba(248,118,109,0.76)" cx="1160.8" cy="331" r="7.0"/>
<circle fill="rgba(248,118,109,0.76)" cx="1188" cy="331" r="7.0"/>
<circle fill="rgba(248,118,109,0.76)" cx="1202" cy="269.2" r="7.0"/>
<circle fill="rgba(248,118,109,0.76)" cx="1202" cy="306" r="7.0"/>
<circle fill="rgba(248,118,109,0.76)" cx="1202" cy="322.7" r="7.0"/>
<circle fill="rgba(248,118,109,0.76)" cx="1202" cy="331" r="7.0"/>
<circle fill="rgba(248,118,109,0.76)" cx="1243.3" cy="318.5" r="7.0"/>
<circle fill="rgba(248,118,109,0.76)" cx="1243.3" cy="332.5" r="7.0"/>
<polygon points="914.9,305.9 923.1,306.9 931.3,307.8 939.5,308.7 947.7,309.6 955.9,310.5 964.1,311.3 972.4,312 980.6,312.7 988.8,313.3 997,313.8 1005.2,314.2 1013.4,314.6 1021.6,314.8 1029.8,315 1038,315.1 1046.2,315.1 1054.4,315.1 1062.6,315 1070.9,314.9 1079.1,314.8 1087.3,314.6 1095.5,314.4 1103.7,314.2 1111.9,313.9 1120.1,313.7 1128.3,313.4 1136.5,313.1 1144.7,312.8 1152.9,312.5 1161.1,312.2 1169.3,311.9 1177.6,311.6 1185.8,311.3 1194,310.9 1202.2,310.6 1210.4,310.3 1218.6,310 1226.8,309.6 1235,309.3 1243.2,308.9 1243.2,354.9 1235,353.8 1226.8,352.7 1218.6,351.6 1210.4,350.5 1202.2,349.4 1194,348.3 1185.8,347.2 1177.6,346.1 1169.3,345 1161.1,343.9 1152.9,342.8 1144.7,341.8 1136.5,340.7 1128.3,339.7 1120.1,338.6 1111.9,337.6 1103.7,336.6 1095.5,335.6 1087.3,334.6 1079.1,333.6 1070.9,332.7 1062.6,331.8 1054.4,331 1046.2,330.2 1038,329.5 1029.8,328.8 1021.6,328.2 1013.4,327.7 1005.2,327.2 997,326.9 988.8,326.6 980.6,326.5 972.4,326.4 964.1,326.3 955.9,326.4 947.7,326.4 939.5,326.5 931.3,326.7 923.1,326.9 914.9,327.1" fill="rgba(210,210,210,0.65)"/>
<line x1="914.9" y1="316.5" x2="1243.2" y2="331.9" stroke="#4682b4" stroke-width="3" stroke-dasharray="11.94 11.94"/>
</g>
<line x1="976.5" y1="396.2" x2="976.5" y2="400.2" stroke="#333" stroke-width="1.1"/>
<text class="tk" x="976.5" y="414.7" text-anchor="middle">2.5</text>
<line x1="1079.1" y1="396.2" x2="1079.1" y2="400.2" stroke="#333" stroke-width="1.1"/>
<text class="tk" x="1079.1" y="414.7" text-anchor="middle">5.0</text>
<line x1="1181.7" y1="396.2" x2="1181.7" y2="400.2" stroke="#333" stroke-width="1.1"/>
<text class="tk" x="1181.7" y="414.7" text-anchor="middle">7.5</text>
<line x1="894.8" y1="283.6" x2="898.8" y2="283.6" stroke="#333" stroke-width="1.1"/>
<text class="tk" x="891.6" y="289.2" text-anchor="end">10</text>
<line x1="894.8" y1="167.2" x2="898.8" y2="167.2" stroke="#333" stroke-width="1.1"/>
<text class="tk" x="891.6" y="172.8" text-anchor="end">20</text>
<line x1="894.8" y1="50.9" x2="898.8" y2="50.9" stroke="#333" stroke-width="1.1"/>
<text class="tk" x="891.6" y="56.5" text-anchor="end">30</text>
<text class="ax" x="1079.3" y="435.6" text-anchor="middle">Species richness</text>
<text class="ax" transform="translate(867.6,218) rotate(-90)" x="0" y="0" text-anchor="middle">Ecosystem stability</text>
<text class="lb" x="858.7" y="24">(c)</text>
<text class="eq" x="1224.8" y="105.3" text-anchor="end"><tspan font-style="italic">y</tspan> = 7.34 − 0.166 <tspan font-style="italic">x</tspan></text>
<text class="eq" x="1082.5" y="134.6"><tspan font-style="italic">P</tspan> = 0.426</text>
<text class="eq" x="1222.7" y="134.6" text-anchor="end"><tspan font-style="italic">R</tspan><tspan dy="-8.5" font-size="13">2</tspan><tspan dy="8.5"> < 0.01</tspan></text>
<clipPath id="clipd"><rect x="53.6" y="488.3" width="360.6" height="356.4"/></clipPath>
<rect x="53.6" y="456.5" width="360.6" height="31.8" fill="#d9d9d9"/>
<text class="st" x="233.9" y="480.3" text-anchor="middle">Temperate humid and semi-humid zone</text>
<rect x="53.6" y="488.3" width="360.6" height="356.4" fill="#ebebeb"/>
<g clip-path="url(#clipd)">
<line x1="93.4" y1="488.3" x2="93.4" y2="844.7" stroke="#fff" stroke-width="0.6" opacity="0.9"/>
<line x1="186.9" y1="488.3" x2="186.9" y2="844.7" stroke="#fff" stroke-width="0.6" opacity="0.9"/>
<line x1="280.5" y1="488.3" x2="280.5" y2="844.7" stroke="#fff" stroke-width="0.6" opacity="0.9"/>
<line x1="374.1" y1="488.3" x2="374.1" y2="844.7" stroke="#fff" stroke-width="0.6" opacity="0.9"/>
<line x1="53.6" y1="793.7" x2="414.2" y2="793.7" stroke="#fff" stroke-width="0.6" opacity="0.9"/>
<line x1="53.6" y1="665.3" x2="414.2" y2="665.3" stroke="#fff" stroke-width="0.6" opacity="0.9"/>
<line x1="53.6" y1="536.9" x2="414.2" y2="536.9" stroke="#fff" stroke-width="0.6" opacity="0.9"/>
<line x1="140.2" y1="488.3" x2="140.2" y2="844.7" stroke="#fff" stroke-width="1.2"/>
<line x1="233.7" y1="488.3" x2="233.7" y2="844.7" stroke="#fff" stroke-width="1.2"/>
<line x1="327.3" y1="488.3" x2="327.3" y2="844.7" stroke="#fff" stroke-width="1.2"/>
<line x1="53.6" y1="729.5" x2="414.2" y2="729.5" stroke="#fff" stroke-width="1.2"/>
<line x1="53.6" y1="601.1" x2="414.2" y2="601.1" stroke="#fff" stroke-width="1.2"/>
<circle fill="rgba(248,118,109,0.76)" cx="140.1" cy="533.5" r="7.0"/>
<circle fill="rgba(248,118,109,0.76)" cx="121.6" cy="565.2" r="7.0"/>
<circle fill="rgba(248,118,109,0.76)" cx="93.2" cy="581.7" r="7.0"/>
<circle fill="rgba(248,118,109,0.76)" cx="147.9" cy="577.5" r="7.0"/>
<circle fill="rgba(248,118,109,0.76)" cx="210.1" cy="560.3" r="7.0"/>
<circle fill="rgba(248,118,109,0.76)" cx="151.7" cy="604.2" r="7.0"/>
<circle fill="rgba(248,118,109,0.76)" cx="145" cy="615.4" r="7.0"/>
<circle fill="rgba(248,118,109,0.76)" cx="214.8" cy="601.6" r="7.0"/>
<circle fill="rgba(248,118,109,0.76)" cx="227.5" cy="603.8" r="7.0"/>
<circle fill="rgba(248,118,109,0.76)" cx="228.6" cy="608.3" r="7.0"/>
<circle fill="rgba(248,118,109,0.76)" cx="219.7" cy="620.1" r="7.0"/>
<circle fill="rgba(248,118,109,0.76)" cx="116.4" cy="632.8" r="7.0"/>
<circle fill="rgba(248,118,109,0.76)" cx="186.9" cy="638.8" r="7.0"/>
<circle fill="rgba(248,118,109,0.76)" cx="202.5" cy="647.3" r="7.0"/>
<circle fill="rgba(248,118,109,0.76)" cx="205.2" cy="656.2" r="7.0"/>
<circle fill="rgba(248,118,109,0.76)" cx="172.9" cy="655.1" r="7.0"/>
<circle fill="rgba(248,118,109,0.76)" cx="175.1" cy="660.7" r="7.0"/>
<circle fill="rgba(248,118,109,0.76)" cx="186.9" cy="665.6" r="7.0"/>
<circle fill="rgba(248,118,109,0.76)" cx="116.4" cy="657.3" r="7.0"/>
<circle fill="rgba(248,118,109,0.76)" cx="140.1" cy="656.2" r="7.0"/>
<circle fill="rgba(248,118,109,0.76)" cx="140.1" cy="680" r="7.0"/>
<circle fill="rgba(248,118,109,0.76)" cx="177.3" cy="681.5" r="7.0"/>
<circle fill="rgba(248,118,109,0.76)" cx="210.1" cy="677.5" r="7.0"/>
<circle fill="rgba(248,118,109,0.76)" cx="239.8" cy="670.7" r="7.0"/>
<circle fill="rgba(248,118,109,0.76)" cx="153.9" cy="694.6" r="7.0"/>
<circle fill="rgba(248,118,109,0.76)" cx="191.8" cy="696.8" r="7.0"/>
<circle fill="rgba(248,118,109,0.76)" cx="187.4" cy="700.2" r="7.0"/>
<circle fill="rgba(248,118,109,0.76)" cx="210.1" cy="693.5" r="7.0"/>
<circle fill="rgba(248,118,109,0.76)" cx="153.9" cy="708" r="7.0"/>
<circle fill="rgba(248,118,109,0.76)" cx="164" cy="713.5" r="7.0"/>
<circle fill="rgba(248,118,109,0.76)" cx="69.8" cy="717.6" r="7.0"/>
<circle fill="rgba(248,118,109,0.76)" cx="190.7" cy="722.5" r="7.0"/>
<circle fill="rgba(248,118,109,0.76)" cx="191.8" cy="729.2" r="7.0"/>
<circle fill="rgba(248,118,109,0.76)" cx="234.2" cy="718" r="7.0"/>
<circle fill="rgba(248,118,109,0.76)" cx="238" cy="715" r="7.0"/>
<circle fill="rgba(248,118,109,0.76)" cx="93.2" cy="743.6" r="7.0"/>
<circle fill="rgba(248,118,109,0.76)" cx="116.4" cy="745.9" r="7.0"/>
<circle fill="rgba(248,118,109,0.76)" cx="140.1" cy="739.2" r="7.0"/>
<circle fill="rgba(248,118,109,0.76)" cx="136.1" cy="745.9" r="7.0"/>
<circle fill="rgba(248,118,109,0.76)" cx="145" cy="745.9" r="7.0"/>
<circle fill="rgba(248,118,109,0.76)" cx="234.2" cy="744.8" r="7.0"/>
<circle fill="rgba(248,118,109,0.76)" cx="98.1" cy="755.9" r="7.0"/>
<circle fill="rgba(248,118,109,0.76)" cx="101.5" cy="766" r="7.0"/>
<circle fill="rgba(248,118,109,0.76)" cx="98.1" cy="771.5" r="7.0"/>
<circle fill="rgba(248,118,109,0.76)" cx="116" cy="764.8" r="7.0"/>
<circle fill="rgba(248,118,109,0.76)" cx="113.8" cy="769.3" r="7.0"/>
<circle fill="rgba(248,118,109,0.76)" cx="224.2" cy="758.1" r="7.0"/>
<circle fill="rgba(248,118,109,0.76)" cx="186.9" cy="769.7" r="7.0"/>
<circle fill="rgba(248,118,109,0.76)" cx="205.7" cy="771.5" r="7.0"/>
<circle fill="rgba(248,118,109,0.76)" cx="222" cy="777.8" r="7.0"/>
<circle fill="rgba(248,118,109,0.76)" cx="234.2" cy="782.7" r="7.0"/>
<circle fill="rgba(248,118,109,0.76)" cx="172.9" cy="784.5" r="7.0"/>
<circle fill="rgba(248,118,109,0.76)" cx="181.8" cy="791.6" r="7.0"/>
<circle fill="rgba(248,118,109,0.76)" cx="210.1" cy="792.1" r="7.0"/>
<circle fill="rgba(248,118,109,0.76)" cx="88.1" cy="788.9" r="7.0"/>
<circle fill="rgba(248,118,109,0.76)" cx="93.7" cy="789.4" r="7.0"/>
<circle fill="rgba(248,118,109,0.76)" cx="112.6" cy="788.9" r="7.0"/>
<circle fill="rgba(248,118,109,0.76)" cx="116.4" cy="800.5" r="7.0"/>
<circle fill="rgba(248,118,109,0.76)" cx="93.2" cy="803.9" r="7.0"/>
<circle fill="rgba(248,118,109,0.76)" cx="93.2" cy="807.2" r="7.0"/>
<circle fill="rgba(248,118,109,0.76)" cx="90.3" cy="813.9" r="7.0"/>
<circle fill="rgba(248,118,109,0.76)" cx="82.1" cy="822.4" r="7.0"/>
<circle fill="rgba(248,118,109,0.76)" cx="100.8" cy="819.5" r="7.0"/>
<circle fill="rgba(248,118,109,0.76)" cx="126" cy="828.4" r="7.0"/>
<circle fill="rgba(248,118,109,0.76)" cx="135.4" cy="811.2" r="7.0"/>
<circle fill="rgba(248,118,109,0.76)" cx="149.5" cy="811.2" r="7.0"/>
<circle fill="rgba(248,118,109,0.76)" cx="153.9" cy="809" r="7.0"/>
<circle fill="rgba(248,118,109,0.76)" cx="274.7" cy="503.9" r="7.0"/>
<circle fill="rgba(248,118,109,0.76)" cx="290.3" cy="536.7" r="7.0"/>
<circle fill="rgba(248,118,109,0.76)" cx="304.8" cy="577.5" r="7.0"/>
<circle fill="rgba(248,118,109,0.76)" cx="311.9" cy="594.2" r="7.0"/>
<circle fill="rgba(248,118,109,0.76)" cx="257.3" cy="602.5" r="7.0"/>
<circle fill="rgba(248,118,109,0.76)" cx="261.7" cy="622.8" r="7.0"/>
<circle fill="rgba(248,118,109,0.76)" cx="292.1" cy="630.6" r="7.0"/>
<circle fill="rgba(248,118,109,0.76)" cx="292.1" cy="639.9" r="7.0"/>
<circle fill="rgba(248,118,109,0.76)" cx="257.3" cy="646.6" r="7.0"/>
<circle fill="rgba(248,118,109,0.76)" cx="257.3" cy="651.1" r="7.0"/>
<circle fill="rgba(248,118,109,0.76)" cx="313.2" cy="648.4" r="7.0"/>
<circle fill="rgba(248,118,109,0.76)" cx="243.5" cy="671.1" r="7.0"/>
<circle fill="rgba(248,118,109,0.76)" cx="264.6" cy="670" r="7.0"/>
<circle fill="rgba(248,118,109,0.76)" cx="260.2" cy="673.4" r="7.0"/>
<circle fill="rgba(248,118,109,0.76)" cx="280.2" cy="671.1" r="7.0"/>
<circle fill="rgba(248,118,109,0.76)" cx="322.6" cy="661.1" r="7.0"/>
<circle fill="rgba(248,118,109,0.76)" cx="322.6" cy="675.6" r="7.0"/>
<circle fill="rgba(248,118,109,0.76)" cx="363.8" cy="651.1" r="7.0"/>
<circle fill="rgba(248,118,109,0.76)" cx="383.9" cy="685.5" r="7.0"/>
<circle fill="rgba(248,118,109,0.76)" cx="256.8" cy="680" r="7.0"/>
<circle fill="rgba(248,118,109,0.76)" cx="290.3" cy="683.4" r="7.0"/>
<circle fill="rgba(248,118,109,0.76)" cx="304.3" cy="690.1" r="7.0"/>
<circle fill="rgba(248,118,109,0.76)" cx="323" cy="696.3" r="7.0"/>
<circle fill="rgba(248,118,109,0.76)" cx="398" cy="718" r="7.0"/>
<circle fill="rgba(248,118,109,0.76)" cx="243.5" cy="716.8" r="7.0"/>
<circle fill="rgba(248,118,109,0.76)" cx="235.7" cy="720.2" r="7.0"/>
<circle fill="rgba(248,118,109,0.76)" cx="279.1" cy="711.3" r="7.0"/>
<circle fill="rgba(248,118,109,0.76)" cx="285.8" cy="706.8" r="7.0"/>
<circle fill="rgba(248,118,109,0.76)" cx="289.2" cy="715.7" r="7.0"/>
<circle fill="rgba(248,118,109,0.76)" cx="298.1" cy="719.7" r="7.0"/>
<circle fill="rgba(248,118,109,0.76)" cx="327.5" cy="726.2" r="7.0"/>
<circle fill="rgba(248,118,109,0.76)" cx="280.7" cy="738.5" r="7.0"/>
<circle fill="rgba(248,118,109,0.76)" cx="262" cy="757.6" r="7.0"/>
<circle fill="rgba(248,118,109,0.76)" cx="278" cy="764.1" r="7.0"/>
<circle fill="rgba(248,118,109,0.76)" cx="304.3" cy="755.9" r="7.0"/>
<circle fill="rgba(248,118,109,0.76)" cx="374.3" cy="754.7" r="7.0"/>
<circle fill="rgba(248,118,109,0.76)" cx="257.3" cy="777.7" r="7.0"/>
<circle fill="rgba(248,118,109,0.76)" cx="354.9" cy="785.3" r="7.0"/>
<polygon points="70,716 78.2,714.9 86.4,713.8 94.5,712.7 102.7,711.6 110.9,710.4 119.1,709.3 127.3,708.1 135.5,706.9 143.7,705.7 151.9,704.4 160,703.1 168.2,701.7 176.4,700.3 184.6,698.7 192.8,697 201,695.2 209.2,693.2 217.3,691 225.5,688.7 233.7,686.2 241.9,683.5 250.1,680.7 258.3,677.7 266.5,674.7 274.7,671.7 282.8,668.5 291,665.3 299.2,662.1 307.4,658.9 315.6,655.6 323.8,652.3 332,649 340.1,645.7 348.3,642.4 356.5,639.1 364.7,635.7 372.9,632.4 381.1,629 389.3,625.6 397.5,622.3 397.5,678.6 389.3,679.6 381.1,680.7 372.9,681.7 364.7,682.8 356.5,683.9 348.3,685 340.1,686 332,687.2 323.8,688.3 315.6,689.4 307.4,690.6 299.2,691.7 291,692.9 282.8,694.2 274.7,695.5 266.5,696.8 258.3,698.2 250.1,699.7 241.9,701.4 233.7,703.1 225.5,705 217.3,707.1 209.2,709.3 201,711.7 192.8,714.3 184.6,717.1 176.4,719.9 168.2,722.9 160,725.9 151.9,729 143.7,732.2 135.5,735.4 127.3,738.6 119.1,741.9 110.9,745.1 102.7,748.4 94.5,751.7 86.4,755.1 78.2,758.4 70,761.7" fill="rgba(210,210,210,0.65)"/>
<line x1="70" y1="738.8" x2="397.5" y2="650.4" stroke="#4682b4" stroke-width="3"/>
</g>
<line x1="140.2" y1="844.7" x2="140.2" y2="848.7" stroke="#333" stroke-width="1.1"/>
<text class="tk" x="140.2" y="863.2" text-anchor="middle">4</text>
<line x1="233.7" y1="844.7" x2="233.7" y2="848.7" stroke="#333" stroke-width="1.1"/>
<text class="tk" x="233.7" y="863.2" text-anchor="middle">8</text>
<line x1="327.3" y1="844.7" x2="327.3" y2="848.7" stroke="#333" stroke-width="1.1"/>
<text class="tk" x="327.3" y="863.2" text-anchor="middle">12</text>
<line x1="49.6" y1="729.5" x2="53.6" y2="729.5" stroke="#333" stroke-width="1.1"/>
<text class="tk" x="46.4" y="735.1" text-anchor="end">10</text>
<line x1="49.6" y1="601.1" x2="53.6" y2="601.1" stroke="#333" stroke-width="1.1"/>
<text class="tk" x="46.4" y="606.7" text-anchor="end">20</text>
<text class="ax" x="233.9" y="884.1" text-anchor="middle">Species richness</text>
<text class="ax" transform="translate(22.3,666.5) rotate(-90)" x="0" y="0" text-anchor="middle">Ecosystem stability</text>
<text class="lb" x="13.4" y="472.5">(d)</text>
<text class="eq" x="379.2" y="553.3" text-anchor="end"><tspan font-style="italic">y</tspan> = 8.78 + 0.492 <tspan font-style="italic">x</tspan></text>
<text class="eq" x="236.9" y="582.6"><tspan font-style="italic">P</tspan> = 0.002</text>
<text class="eq" x="377.1" y="582.6" text-anchor="end"><tspan font-style="italic">R</tspan><tspan dy="-8.5" font-size="13">2</tspan><tspan dy="8.5"> = 0.08</tspan></text>
<clipPath id="clipe"><rect x="475.7" y="488.3" width="361" height="356.4"/></clipPath>
<rect x="475.7" y="456.5" width="361" height="31.8" fill="#d9d9d9"/>
<text class="st" x="656.2" y="480.3" text-anchor="middle">Temperate arid and semi-arid zone</text>
<rect x="475.7" y="488.3" width="361" height="356.4" fill="#ebebeb"/>
<g clip-path="url(#clipe)">
<line x1="508.2" y1="488.3" x2="508.2" y2="844.7" stroke="#fff" stroke-width="0.6" opacity="0.9"/>
<line x1="603.7" y1="488.3" x2="603.7" y2="844.7" stroke="#fff" stroke-width="0.6" opacity="0.9"/>
<line x1="699.3" y1="488.3" x2="699.3" y2="844.7" stroke="#fff" stroke-width="0.6" opacity="0.9"/>
<line x1="794.8" y1="488.3" x2="794.8" y2="844.7" stroke="#fff" stroke-width="0.6" opacity="0.9"/>
<line x1="475.7" y1="823.9" x2="836.7" y2="823.9" stroke="#fff" stroke-width="0.6" opacity="0.9"/>
<line x1="475.7" y1="745.4" x2="836.7" y2="745.4" stroke="#fff" stroke-width="0.6" opacity="0.9"/>
<line x1="475.7" y1="666.9" x2="836.7" y2="666.9" stroke="#fff" stroke-width="0.6" opacity="0.9"/>
<line x1="475.7" y1="588.4" x2="836.7" y2="588.4" stroke="#fff" stroke-width="0.6" opacity="0.9"/>
<line x1="475.7" y1="509.9" x2="836.7" y2="509.9" stroke="#fff" stroke-width="0.6" opacity="0.9"/>
<line x1="556" y1="488.3" x2="556" y2="844.7" stroke="#fff" stroke-width="1.2"/>
<line x1="651.5" y1="488.3" x2="651.5" y2="844.7" stroke="#fff" stroke-width="1.2"/>
<line x1="747" y1="488.3" x2="747" y2="844.7" stroke="#fff" stroke-width="1.2"/>
<line x1="475.7" y1="784.6" x2="836.7" y2="784.6" stroke="#fff" stroke-width="1.2"/>
<line x1="475.7" y1="706.1" x2="836.7" y2="706.1" stroke="#fff" stroke-width="1.2"/>
<line x1="475.7" y1="627.6" x2="836.7" y2="627.6" stroke="#fff" stroke-width="1.2"/>
<line x1="475.7" y1="549.1" x2="836.7" y2="549.1" stroke="#fff" stroke-width="1.2"/>
<circle fill="rgba(248,118,109,0.76)" cx="492.4" cy="650.5" r="7.0"/>
<circle fill="rgba(248,118,109,0.76)" cx="492.4" cy="678" r="7.0"/>
<circle fill="rgba(248,118,109,0.76)" cx="524.3" cy="615.6" r="7.0"/>
<circle fill="rgba(248,118,109,0.76)" cx="524.3" cy="617.6" r="7.0"/>
<circle fill="rgba(248,118,109,0.76)" cx="556" cy="533.9" r="7.0"/>
<circle fill="rgba(248,118,109,0.76)" cx="556" cy="575.9" r="7.0"/>
<circle fill="rgba(248,118,109,0.76)" cx="556" cy="615.6" r="7.0"/>
<circle fill="rgba(248,118,109,0.76)" cx="556" cy="617.6" r="7.0"/>
<circle fill="rgba(248,118,109,0.76)" cx="556" cy="646.7" r="7.0"/>
<circle fill="rgba(248,118,109,0.76)" cx="587.9" cy="568.7" r="7.0"/>
<circle fill="rgba(248,118,109,0.76)" cx="587.9" cy="596.6" r="7.0"/>
<circle fill="rgba(248,118,109,0.76)" cx="587.9" cy="624.9" r="7.0"/>
<circle fill="rgba(248,118,109,0.76)" cx="587.9" cy="629.4" r="7.0"/>
<circle fill="rgba(248,118,109,0.76)" cx="587.9" cy="645.4" r="7.0"/>
<circle fill="rgba(248,118,109,0.76)" cx="587.9" cy="653.9" r="7.0"/>
<circle fill="rgba(248,118,109,0.76)" cx="571.6" cy="662.1" r="7.0"/>
<circle fill="rgba(248,118,109,0.76)" cx="566.7" cy="672.2" r="7.0"/>
<circle fill="rgba(248,118,109,0.76)" cx="603.5" cy="655" r="7.0"/>
<circle fill="rgba(248,118,109,0.76)" cx="619.5" cy="631.6" r="7.0"/>
<circle fill="rgba(248,118,109,0.76)" cx="619.5" cy="646.1" r="7.0"/>
<circle fill="rgba(248,118,109,0.76)" cx="619.5" cy="677.3" r="7.0"/>
<circle fill="rgba(248,118,109,0.76)" cx="492.4" cy="694.6" r="7.0"/>
<circle fill="rgba(248,118,109,0.76)" cx="492.4" cy="697.5" r="7.0"/>
<circle fill="rgba(248,118,109,0.76)" cx="492.4" cy="706.8" r="7.0"/>
<circle fill="rgba(248,118,109,0.76)" cx="492.4" cy="734.2" r="7.0"/>
<circle fill="rgba(248,118,109,0.76)" cx="492.4" cy="759.2" r="7.0"/>
<circle fill="rgba(248,118,109,0.76)" cx="492.4" cy="774.8" r="7.0"/>
<circle fill="rgba(248,118,109,0.76)" cx="492.4" cy="778.1" r="7.0"/>
<circle fill="rgba(248,118,109,0.76)" cx="492.4" cy="798.2" r="7.0"/>
<circle fill="rgba(248,118,109,0.76)" cx="492.4" cy="817.2" r="7.0"/>
<circle fill="rgba(248,118,109,0.76)" cx="492.4" cy="825" r="7.0"/>
<circle fill="rgba(248,118,109,0.76)" cx="498" cy="791.5" r="7.0"/>
<circle fill="rgba(248,118,109,0.76)" cx="524.3" cy="742.5" r="7.0"/>
<circle fill="rgba(248,118,109,0.76)" cx="524.3" cy="769.2" r="7.0"/>
<circle fill="rgba(248,118,109,0.76)" cx="524.3" cy="783.7" r="7.0"/>
<circle fill="rgba(248,118,109,0.76)" cx="524.3" cy="787.5" r="7.0"/>
<circle fill="rgba(248,118,109,0.76)" cx="524.3" cy="791.5" r="7.0"/>
<circle fill="rgba(248,118,109,0.76)" cx="524.3" cy="809.8" r="7.0"/>
<circle fill="rgba(248,118,109,0.76)" cx="524.3" cy="825" r="7.0"/>
<circle fill="rgba(248,118,109,0.76)" cx="534.8" cy="689" r="7.0"/>
<circle fill="rgba(248,118,109,0.76)" cx="556" cy="723.5" r="7.0"/>
<circle fill="rgba(248,118,109,0.76)" cx="556" cy="742.9" r="7.0"/>
<circle fill="rgba(248,118,109,0.76)" cx="556" cy="757" r="7.0"/>
<circle fill="rgba(248,118,109,0.76)" cx="556" cy="764.8" r="7.0"/>
<circle fill="rgba(248,118,109,0.76)" cx="556" cy="825" r="7.0"/>
<circle fill="rgba(248,118,109,0.76)" cx="567.1" cy="764.8" r="7.0"/>
<circle fill="rgba(248,118,109,0.76)" cx="587.9" cy="696.8" r="7.0"/>
<circle fill="rgba(248,118,109,0.76)" cx="587.9" cy="715.7" r="7.0"/>
<circle fill="rgba(248,118,109,0.76)" cx="587.9" cy="723.5" r="7.0"/>
<circle fill="rgba(248,118,109,0.76)" cx="587.9" cy="734.7" r="7.0"/>
<circle fill="rgba(248,118,109,0.76)" cx="587.9" cy="742.5" r="7.0"/>
<circle fill="rgba(248,118,109,0.76)" cx="587.9" cy="762.5" r="7.0"/>
<circle fill="rgba(248,118,109,0.76)" cx="587.9" cy="821.6" r="7.0"/>
<circle fill="rgba(248,118,109,0.76)" cx="587.9" cy="826.1" r="7.0"/>
<circle fill="rgba(248,118,109,0.76)" cx="571.6" cy="718" r="7.0"/>
<circle fill="rgba(248,118,109,0.76)" cx="609" cy="733.6" r="7.0"/>
<circle fill="rgba(248,118,109,0.76)" cx="619.5" cy="686.7" r="7.0"/>
<circle fill="rgba(248,118,109,0.76)" cx="619.5" cy="691" r="7.0"/>
<circle fill="rgba(248,118,109,0.76)" cx="619.5" cy="695.7" r="7.0"/>
<circle fill="rgba(248,118,109,0.76)" cx="619.5" cy="711.3" r="7.0"/>
<circle fill="rgba(248,118,109,0.76)" cx="619.5" cy="718" r="7.0"/>
<circle fill="rgba(248,118,109,0.76)" cx="619.5" cy="742.5" r="7.0"/>
<circle fill="rgba(248,118,109,0.76)" cx="619.5" cy="748" r="7.0"/>
<circle fill="rgba(248,118,109,0.76)" cx="619.5" cy="769.2" r="7.0"/>
<circle fill="rgba(248,118,109,0.76)" cx="619.5" cy="793.7" r="7.0"/>
<circle fill="rgba(248,118,109,0.76)" cx="619.5" cy="800.4" r="7.0"/>
<circle fill="rgba(248,118,109,0.76)" cx="699.1" cy="503.9" r="7.0"/>
<circle fill="rgba(248,118,109,0.76)" cx="746.4" cy="533.5" r="7.0"/>
<circle fill="rgba(248,118,109,0.76)" cx="820.6" cy="530.8" r="7.0"/>
<circle fill="rgba(248,118,109,0.76)" cx="746.4" cy="552.4" r="7.0"/>
<circle fill="rgba(248,118,109,0.76)" cx="714.7" cy="576.3" r="7.0"/>
<circle fill="rgba(248,118,109,0.76)" cx="651.2" cy="587" r="7.0"/>
<circle fill="rgba(248,118,109,0.76)" cx="683.1" cy="626.7" r="7.0"/>
<circle fill="rgba(248,118,109,0.76)" cx="683.1" cy="646.1" r="7.0"/>
<circle fill="rgba(248,118,109,0.76)" cx="695.8" cy="653.9" r="7.0"/>
<circle fill="rgba(248,118,109,0.76)" cx="714.7" cy="641.6" r="7.0"/>
<circle fill="rgba(248,118,109,0.76)" cx="714.7" cy="655" r="7.0"/>
<circle fill="rgba(248,118,109,0.76)" cx="746.4" cy="634.9" r="7.0"/>
<circle fill="rgba(248,118,109,0.76)" cx="746.4" cy="649.4" r="7.0"/>
<circle fill="rgba(248,118,109,0.76)" cx="778.3" cy="630.5" r="7.0"/>
<circle fill="rgba(248,118,109,0.76)" cx="810.1" cy="636" r="7.0"/>
<circle fill="rgba(248,118,109,0.76)" cx="651.2" cy="656.1" r="7.0"/>
<circle fill="rgba(248,118,109,0.76)" cx="651.2" cy="661.7" r="7.0"/>
<circle fill="rgba(248,118,109,0.76)" cx="651.2" cy="681.2" r="7.0"/>
<circle fill="rgba(248,118,109,0.76)" cx="661.9" cy="682.3" r="7.0"/>
<circle fill="rgba(248,118,109,0.76)" cx="714.7" cy="676.7" r="7.0"/>
<circle fill="rgba(248,118,109,0.76)" cx="714.7" cy="682.3" r="7.0"/>
<circle fill="rgba(248,118,109,0.76)" cx="714.7" cy="689" r="7.0"/>
<circle fill="rgba(248,118,109,0.76)" cx="746.4" cy="676" r="7.0"/>
<circle fill="rgba(248,118,109,0.76)" cx="777.8" cy="666.7" r="7.0"/>
<circle fill="rgba(248,118,109,0.76)" cx="810.1" cy="677.4" r="7.0"/>
<circle fill="rgba(248,118,109,0.76)" cx="683.1" cy="692.3" r="7.0"/>
<circle fill="rgba(248,118,109,0.76)" cx="683.1" cy="696.8" r="7.0"/>
<circle fill="rgba(248,118,109,0.76)" cx="667.5" cy="701.2" r="7.0"/>
<circle fill="rgba(248,118,109,0.76)" cx="767.6" cy="694.6" r="7.0"/>
<circle fill="rgba(248,118,109,0.76)" cx="799" cy="701.9" r="7.0"/>
<circle fill="rgba(248,118,109,0.76)" cx="683.1" cy="711.3" r="7.0"/>
<circle fill="rgba(248,118,109,0.76)" cx="714.7" cy="716.2" r="7.0"/>
<circle fill="rgba(248,118,109,0.76)" cx="651.2" cy="735.1" r="7.0"/>
<circle fill="rgba(248,118,109,0.76)" cx="651.2" cy="737" r="7.0"/>
<circle fill="rgba(248,118,109,0.76)" cx="683.1" cy="730.7" r="7.0"/>
<circle fill="rgba(248,118,109,0.76)" cx="683.1" cy="732.5" r="7.0"/>
<circle fill="rgba(248,118,109,0.76)" cx="714.7" cy="737.4" r="7.0"/>
<circle fill="rgba(248,118,109,0.76)" cx="746.4" cy="733.6" r="7.0"/>
<circle fill="rgba(248,118,109,0.76)" cx="810.1" cy="727.5" r="7.0"/>
<circle fill="rgba(248,118,109,0.76)" cx="777.8" cy="734.7" r="7.0"/>
<circle fill="rgba(248,118,109,0.76)" cx="777.8" cy="740.2" r="7.0"/>
<circle fill="rgba(248,118,109,0.76)" cx="777.8" cy="746.9" r="7.0"/>
<circle fill="rgba(248,118,109,0.76)" cx="777.8" cy="762.5" r="7.0"/>
<circle fill="rgba(248,118,109,0.76)" cx="667.5" cy="751" r="7.0"/>
<circle fill="rgba(248,118,109,0.76)" cx="651.2" cy="757" r="7.0"/>
<circle fill="rgba(248,118,109,0.76)" cx="651.2" cy="767" r="7.0"/>
<circle fill="rgba(248,118,109,0.76)" cx="651.2" cy="775.9" r="7.0"/>
<circle fill="rgba(248,118,109,0.76)" cx="661.9" cy="763.7" r="7.0"/>
<circle fill="rgba(248,118,109,0.76)" cx="667.5" cy="774.8" r="7.0"/>
<circle fill="rgba(248,118,109,0.76)" cx="683.1" cy="765.9" r="7.0"/>
<circle fill="rgba(248,118,109,0.76)" cx="703.6" cy="763.7" r="7.0"/>
<circle fill="rgba(248,118,109,0.76)" cx="714.7" cy="764.8" r="7.0"/>
<circle fill="rgba(248,118,109,0.76)" cx="738.6" cy="768.1" r="7.0"/>
<circle fill="rgba(248,118,109,0.76)" cx="714.7" cy="788.2" r="7.0"/>
<circle fill="rgba(248,118,109,0.76)" cx="651.2" cy="828.3" r="7.0"/>
<polygon points="492.2,714.4 500.5,713.8 508.7,713.1 516.9,712.4 525.1,711.7 533.3,711 541.5,710.2 549.7,709.5 557.9,708.7 566.1,707.9 574.3,707 582.5,706.1 590.7,705.1 598.9,704 607.1,702.8 615.3,701.5 623.5,700.1 631.7,698.5 639.9,696.8 648.1,694.9 656.3,693 664.5,690.9 672.7,688.8 680.9,686.6 689.1,684.3 697.3,682.1 705.5,679.8 713.7,677.5 721.9,675.1 730.1,672.8 738.3,670.4 746.5,668 754.7,665.6 762.9,663.2 771.1,660.8 779.3,658.4 787.5,656 795.7,653.5 803.9,651.1 812.1,648.7 820.3,646.3 820.3,692.4 812.1,693 803.9,693.6 795.7,694.3 787.5,694.9 779.3,695.6 771.1,696.2 762.9,696.9 754.7,697.6 746.5,698.2 738.3,698.9 730.1,699.6 721.9,700.3 713.7,701 705.5,701.8 697.3,702.5 689.1,703.3 680.9,704.2 672.7,705 664.5,706 656.3,707 648.1,708.1 639.9,709.3 631.7,710.6 623.5,712.1 615.3,713.7 607.1,715.5 598.9,717.4 590.7,719.3 582.5,721.4 574.3,723.6 566.1,725.8 557.9,728 549.7,730.3 541.5,732.6 533.3,734.9 525.1,737.3 516.9,739.6 508.7,742 500.5,744.4 492.2,746.8" fill="rgba(210,210,210,0.65)"/>
<line x1="492.2" y1="730.6" x2="820.3" y2="669.3" stroke="#4682b4" stroke-width="3"/>
</g>
<line x1="556" y1="844.7" x2="556" y2="848.7" stroke="#333" stroke-width="1.1"/>
<text class="tk" x="556" y="863.2" text-anchor="middle">3</text>
<line x1="651.5" y1="844.7" x2="651.5" y2="848.7" stroke="#333" stroke-width="1.1"/>
<text class="tk" x="651.5" y="863.2" text-anchor="middle">6</text>
<line x1="747" y1="844.7" x2="747" y2="848.7" stroke="#333" stroke-width="1.1"/>
<text class="tk" x="747" y="863.2" text-anchor="middle">9</text>
<line x1="471.7" y1="784.6" x2="475.7" y2="784.6" stroke="#333" stroke-width="1.1"/>
<text class="tk" x="468.5" y="790.2" text-anchor="end">5</text>
<line x1="471.7" y1="706.1" x2="475.7" y2="706.1" stroke="#333" stroke-width="1.1"/>
<text class="tk" x="468.5" y="711.7" text-anchor="end">10</text>
<line x1="471.7" y1="627.6" x2="475.7" y2="627.6" stroke="#333" stroke-width="1.1"/>
<text class="tk" x="468.5" y="633.2" text-anchor="end">15</text>
<line x1="471.7" y1="549.1" x2="475.7" y2="549.1" stroke="#333" stroke-width="1.1"/>
<text class="tk" x="468.5" y="554.7" text-anchor="end">20</text>
<text class="ax" x="656.2" y="884.1" text-anchor="middle">Species richness</text>
<text class="ax" transform="translate(445,666.5) rotate(-90)" x="0" y="0" text-anchor="middle">Ecosystem stability</text>
<text class="lb" x="436.1" y="472.5">(e)</text>
<text class="eq" x="801.7" y="553.3" text-anchor="end"><tspan font-style="italic">y</tspan> = 8.06 + 0.379 <tspan font-style="italic">x</tspan></text>
<text class="eq" x="659.4" y="582.6"><tspan font-style="italic">P</tspan> = 0.007</text>
<text class="eq" x="799.6" y="582.6" text-anchor="end"><tspan font-style="italic">R</tspan><tspan dy="-8.5" font-size="13">2</tspan><tspan dy="8.5"> = 0.06</tspan></text>
<clipPath id="clipf"><rect x="898.6" y="488.3" width="361.1" height="356.4"/></clipPath>
<rect x="898.6" y="456.5" width="361.1" height="31.8" fill="#d9d9d9"/>
<text class="st" x="1079.2" y="480.3" text-anchor="middle">Tibetan Plateau region</text>
<rect x="898.6" y="488.3" width="361.1" height="356.4" fill="#ebebeb"/>
<g clip-path="url(#clipf)">
<line x1="931.5" y1="488.3" x2="931.5" y2="844.7" stroke="#fff" stroke-width="0.6" opacity="0.9"/>
<line x1="1030.3" y1="488.3" x2="1030.3" y2="844.7" stroke="#fff" stroke-width="0.6" opacity="0.9"/>
<line x1="1129.1" y1="488.3" x2="1129.1" y2="844.7" stroke="#fff" stroke-width="0.6" opacity="0.9"/>
<line x1="1227.9" y1="488.3" x2="1227.9" y2="844.7" stroke="#fff" stroke-width="0.6" opacity="0.9"/>
<line x1="898.6" y1="789.1" x2="1259.7" y2="789.1" stroke="#fff" stroke-width="0.6" opacity="0.9"/>
<line x1="898.6" y1="664.5" x2="1259.7" y2="664.5" stroke="#fff" stroke-width="0.6" opacity="0.9"/>
<line x1="898.6" y1="539.9" x2="1259.7" y2="539.9" stroke="#fff" stroke-width="0.6" opacity="0.9"/>
<line x1="980.9" y1="488.3" x2="980.9" y2="844.7" stroke="#fff" stroke-width="1.2"/>
<line x1="1079.7" y1="488.3" x2="1079.7" y2="844.7" stroke="#fff" stroke-width="1.2"/>
<line x1="1178.5" y1="488.3" x2="1178.5" y2="844.7" stroke="#fff" stroke-width="1.2"/>
<line x1="898.6" y1="726.8" x2="1259.7" y2="726.8" stroke="#fff" stroke-width="1.2"/>
<line x1="898.6" y1="602.2" x2="1259.7" y2="602.2" stroke="#fff" stroke-width="1.2"/>
<circle fill="rgba(248,118,109,0.76)" cx="973.7" cy="503.9" r="7.0"/>
<circle fill="rgba(248,118,109,0.76)" cx="992.9" cy="510.5" r="7.0"/>
<circle fill="rgba(248,118,109,0.76)" cx="1013.4" cy="559.8" r="7.0"/>
<circle fill="rgba(248,118,109,0.76)" cx="967.5" cy="592.1" r="7.0"/>
<circle fill="rgba(248,118,109,0.76)" cx="1026.8" cy="606" r="7.0"/>
<circle fill="rgba(248,118,109,0.76)" cx="976" cy="617.4" r="7.0"/>
<circle fill="rgba(248,118,109,0.76)" cx="915.1" cy="637.8" r="7.0"/>
<circle fill="rgba(248,118,109,0.76)" cx="1013.5" cy="639.9" r="7.0"/>
<circle fill="rgba(248,118,109,0.76)" cx="1035.2" cy="635.1" r="7.0"/>
<circle fill="rgba(248,118,109,0.76)" cx="1046.7" cy="643.5" r="7.0"/>
<circle fill="rgba(248,118,109,0.76)" cx="1029.6" cy="658.9" r="7.0"/>
<circle fill="rgba(248,118,109,0.76)" cx="980.8" cy="660.8" r="7.0"/>
<circle fill="rgba(248,118,109,0.76)" cx="915.1" cy="662.2" r="7.0"/>
<circle fill="rgba(248,118,109,0.76)" cx="915.1" cy="672.9" r="7.0"/>
<circle fill="rgba(248,118,109,0.76)" cx="980.9" cy="674.2" r="7.0"/>
<circle fill="rgba(248,118,109,0.76)" cx="980.9" cy="677.2" r="7.0"/>
<circle fill="rgba(248,118,109,0.76)" cx="980.9" cy="680.2" r="7.0"/>
<circle fill="rgba(248,118,109,0.76)" cx="1013.5" cy="670.9" r="7.0"/>
<circle fill="rgba(248,118,109,0.76)" cx="1025.2" cy="673" r="7.0"/>
<circle fill="rgba(248,118,109,0.76)" cx="1046.7" cy="673" r="7.0"/>
<circle fill="rgba(248,118,109,0.76)" cx="1046.7" cy="681" r="7.0"/>
<circle fill="rgba(248,118,109,0.76)" cx="1089.8" cy="673.6" r="7.0"/>
<circle fill="rgba(248,118,109,0.76)" cx="1079.5" cy="609.3" r="7.0"/>
<circle fill="rgba(248,118,109,0.76)" cx="1161.5" cy="631.2" r="7.0"/>
<circle fill="rgba(248,118,109,0.76)" cx="1079.5" cy="642.4" r="7.0"/>
<circle fill="rgba(248,118,109,0.76)" cx="1144.8" cy="670.7" r="7.0"/>
<circle fill="rgba(248,118,109,0.76)" cx="915.1" cy="695.6" r="7.0"/>
<circle fill="rgba(248,118,109,0.76)" cx="947.9" cy="693.6" r="7.0"/>
<circle fill="rgba(248,118,109,0.76)" cx="987.5" cy="692.3" r="7.0"/>
<circle fill="rgba(248,118,109,0.76)" cx="1002.2" cy="690.4" r="7.0"/>
<circle fill="rgba(248,118,109,0.76)" cx="1014.2" cy="691" r="7.0"/>
<circle fill="rgba(248,118,109,0.76)" cx="980.7" cy="699.7" r="7.0"/>
<circle fill="rgba(248,118,109,0.76)" cx="1013.5" cy="701.7" r="7.0"/>
<circle fill="rgba(248,118,109,0.76)" cx="1013.5" cy="707.1" r="7.0"/>
<circle fill="rgba(248,118,109,0.76)" cx="1013.5" cy="712.4" r="7.0"/>
<circle fill="rgba(248,118,109,0.76)" cx="966.7" cy="713.8" r="7.0"/>
<circle fill="rgba(248,118,109,0.76)" cx="996.8" cy="717.1" r="7.0"/>
<circle fill="rgba(248,118,109,0.76)" cx="1055.7" cy="699.7" r="7.0"/>
<circle fill="rgba(248,118,109,0.76)" cx="1059" cy="701.7" r="7.0"/>
<circle fill="rgba(248,118,109,0.76)" cx="1047" cy="709.8" r="7.0"/>
<circle fill="rgba(248,118,109,0.76)" cx="1047" cy="715.1" r="7.0"/>
<circle fill="rgba(248,118,109,0.76)" cx="1079.1" cy="691" r="7.0"/>
<circle fill="rgba(248,118,109,0.76)" cx="1079.1" cy="696.4" r="7.0"/>
<circle fill="rgba(248,118,109,0.76)" cx="1079.1" cy="701.7" r="7.0"/>
<circle fill="rgba(248,118,109,0.76)" cx="1090.5" cy="697" r="7.0"/>
<circle fill="rgba(248,118,109,0.76)" cx="915.2" cy="709.4" r="7.0"/>
<circle fill="rgba(248,118,109,0.76)" cx="915.2" cy="713.7" r="7.0"/>
<circle fill="rgba(248,118,109,0.76)" cx="915.2" cy="718.8" r="7.0"/>
<circle fill="rgba(248,118,109,0.76)" cx="915.2" cy="726.8" r="7.0"/>
<circle fill="rgba(248,118,109,0.76)" cx="915.2" cy="734.8" r="7.0"/>
<circle fill="rgba(248,118,109,0.76)" cx="915.2" cy="738.3" r="7.0"/>
<circle fill="rgba(248,118,109,0.76)" cx="915.2" cy="741.8" r="7.0"/>
<circle fill="rgba(248,118,109,0.76)" cx="915.2" cy="745.2" r="7.0"/>
<circle fill="rgba(248,118,109,0.76)" cx="915.2" cy="748.7" r="7.0"/>
<circle fill="rgba(248,118,109,0.76)" cx="915.2" cy="752.2" r="7.0"/>
<circle fill="rgba(248,118,109,0.76)" cx="915.2" cy="755.7" r="7.0"/>
<circle fill="rgba(248,118,109,0.76)" cx="915.2" cy="759.1" r="7.0"/>
<circle fill="rgba(248,118,109,0.76)" cx="915.2" cy="762.6" r="7.0"/>
<circle fill="rgba(248,118,109,0.76)" cx="915.2" cy="766.1" r="7.0"/>
<circle fill="rgba(248,118,109,0.76)" cx="915.2" cy="769.6" r="7.0"/>
<circle fill="rgba(248,118,109,0.76)" cx="915.2" cy="773" r="7.0"/>
<circle fill="rgba(248,118,109,0.76)" cx="915.2" cy="776.5" r="7.0"/>
<circle fill="rgba(248,118,109,0.76)" cx="915.2" cy="780" r="7.0"/>
<circle fill="rgba(248,118,109,0.76)" cx="915.2" cy="783.5" r="7.0"/>
<circle fill="rgba(248,118,109,0.76)" cx="915.2" cy="786.9" r="7.0"/>
<circle fill="rgba(248,118,109,0.76)" cx="915.2" cy="790.4" r="7.0"/>
<circle fill="rgba(248,118,109,0.76)" cx="915.2" cy="793.9" r="7.0"/>
<circle fill="rgba(248,118,109,0.76)" cx="915.2" cy="797.4" r="7.0"/>
<circle fill="rgba(248,118,109,0.76)" cx="915.2" cy="800.8" r="7.0"/>
<circle fill="rgba(248,118,109,0.76)" cx="915.2" cy="804.3" r="7.0"/>
<circle fill="rgba(248,118,109,0.76)" cx="915.2" cy="807.8" r="7.0"/>
<circle fill="rgba(248,118,109,0.76)" cx="915.2" cy="811.3" r="7.0"/>
<circle fill="rgba(248,118,109,0.76)" cx="915.2" cy="814.7" r="7.0"/>
<circle fill="rgba(248,118,109,0.76)" cx="915.2" cy="818.2" r="7.0"/>
<circle fill="rgba(248,118,109,0.76)" cx="915.2" cy="821.7" r="7.0"/>
<circle fill="rgba(248,118,109,0.76)" cx="931.2" cy="710.1" r="7.0"/>
<circle fill="rgba(248,118,109,0.76)" cx="931.2" cy="737.7" r="7.0"/>
<circle fill="rgba(248,118,109,0.76)" cx="931.2" cy="762.3" r="7.0"/>
<circle fill="rgba(248,118,109,0.76)" cx="931.2" cy="780.4" r="7.0"/>
<circle fill="rgba(248,118,109,0.76)" cx="931.2" cy="791.3" r="7.0"/>
<circle fill="rgba(248,118,109,0.76)" cx="931.2" cy="804.3" r="7.0"/>
<circle fill="rgba(248,118,109,0.76)" cx="936.2" cy="806.5" r="7.0"/>
<circle fill="rgba(248,118,109,0.76)" cx="947.8" cy="718.8" r="7.0"/>
<circle fill="rgba(248,118,109,0.76)" cx="947.8" cy="744.2" r="7.0"/>
<circle fill="rgba(248,118,109,0.76)" cx="947.8" cy="768" r="7.0"/>
<circle fill="rgba(248,118,109,0.76)" cx="947.8" cy="772.5" r="7.0"/>
<circle fill="rgba(248,118,109,0.76)" cx="947.8" cy="789.9" r="7.0"/>
<circle fill="rgba(248,118,109,0.76)" cx="947.8" cy="795.7" r="7.0"/>
<circle fill="rgba(248,118,109,0.76)" cx="947.8" cy="814.5" r="7.0"/>
<circle fill="rgba(248,118,109,0.76)" cx="963.8" cy="713.8" r="7.0"/>
<circle fill="rgba(248,118,109,0.76)" cx="963.8" cy="743.5" r="7.0"/>
<circle fill="rgba(248,118,109,0.76)" cx="958" cy="760.9" r="7.0"/>
<circle fill="rgba(248,118,109,0.76)" cx="962.3" cy="789.9" r="7.0"/>
<circle fill="rgba(248,118,109,0.76)" cx="966.7" cy="792.8" r="7.0"/>
<circle fill="rgba(248,118,109,0.76)" cx="963.8" cy="804.3" r="7.0"/>
<circle fill="rgba(248,118,109,0.76)" cx="981.2" cy="704" r="7.0"/>
<circle fill="rgba(248,118,109,0.76)" cx="981.2" cy="708" r="7.0"/>
<circle fill="rgba(248,118,109,0.76)" cx="981.2" cy="711" r="7.0"/>
<circle fill="rgba(248,118,109,0.76)" cx="981.2" cy="715" r="7.0"/>
<circle fill="rgba(248,118,109,0.76)" cx="981.2" cy="720" r="7.0"/>
<circle fill="rgba(248,118,109,0.76)" cx="981.2" cy="725" r="7.0"/>
<circle fill="rgba(248,118,109,0.76)" cx="981.2" cy="730" r="7.0"/>
<circle fill="rgba(248,118,109,0.76)" cx="981.2" cy="735" r="7.0"/>
<circle fill="rgba(248,118,109,0.76)" cx="981.2" cy="739" r="7.0"/>
<circle fill="rgba(248,118,109,0.76)" cx="981.2" cy="755" r="7.0"/>
<circle fill="rgba(248,118,109,0.76)" cx="981.2" cy="758.5" r="7.0"/>
<circle fill="rgba(248,118,109,0.76)" cx="981.2" cy="762.1" r="7.0"/>
<circle fill="rgba(248,118,109,0.76)" cx="981.2" cy="765.6" r="7.0"/>
<circle fill="rgba(248,118,109,0.76)" cx="981.2" cy="769.2" r="7.0"/>
<circle fill="rgba(248,118,109,0.76)" cx="981.2" cy="772.7" r="7.0"/>
<circle fill="rgba(248,118,109,0.76)" cx="981.2" cy="776.3" r="7.0"/>
<circle fill="rgba(248,118,109,0.76)" cx="981.2" cy="779.8" r="7.0"/>
<circle fill="rgba(248,118,109,0.76)" cx="981.2" cy="783.4" r="7.0"/>
<circle fill="rgba(248,118,109,0.76)" cx="981.2" cy="786.9" r="7.0"/>
<circle fill="rgba(248,118,109,0.76)" cx="981.2" cy="790.4" r="7.0"/>
<circle fill="rgba(248,118,109,0.76)" cx="981.2" cy="794" r="7.0"/>
<circle fill="rgba(248,118,109,0.76)" cx="981.2" cy="797.5" r="7.0"/>
<circle fill="rgba(248,118,109,0.76)" cx="981.2" cy="801.1" r="7.0"/>
<circle fill="rgba(248,118,109,0.76)" cx="981.2" cy="804.6" r="7.0"/>
<circle fill="rgba(248,118,109,0.76)" cx="981.2" cy="808.2" r="7.0"/>
<circle fill="rgba(248,118,109,0.76)" cx="981.2" cy="811.7" r="7.0"/>
<circle fill="rgba(248,118,109,0.76)" cx="981.2" cy="815.3" r="7.0"/>
<circle fill="rgba(248,118,109,0.76)" cx="981.2" cy="818.8" r="7.0"/>
<circle fill="rgba(248,118,109,0.76)" cx="990.6" cy="734.8" r="7.0"/>
<circle fill="rgba(248,118,109,0.76)" cx="997.1" cy="720.3" r="7.0"/>
<circle fill="rgba(248,118,109,0.76)" cx="995.7" cy="771" r="7.0"/>
<circle fill="rgba(248,118,109,0.76)" cx="994.2" cy="760.9" r="7.0"/>
<circle fill="rgba(248,118,109,0.76)" cx="1004.3" cy="778.3" r="7.0"/>
<circle fill="rgba(248,118,109,0.76)" cx="1003.6" cy="792.8" r="7.0"/>
<circle fill="rgba(248,118,109,0.76)" cx="1013.8" cy="716" r="7.0"/>
<circle fill="rgba(248,118,109,0.76)" cx="1013.8" cy="718.8" r="7.0"/>
<circle fill="rgba(248,118,109,0.76)" cx="1013.8" cy="727.5" r="7.0"/>
<circle fill="rgba(248,118,109,0.76)" cx="1013.8" cy="731" r="7.0"/>
<circle fill="rgba(248,118,109,0.76)" cx="1013.8" cy="736.2" r="7.0"/>
<circle fill="rgba(248,118,109,0.76)" cx="1013.8" cy="788.4" r="7.0"/>
<circle fill="rgba(248,118,109,0.76)" cx="1013.8" cy="811.6" r="7.0"/>
<circle fill="rgba(248,118,109,0.76)" cx="1013.8" cy="758" r="7.0"/>
<circle fill="rgba(248,118,109,0.76)" cx="1013.8" cy="761.9" r="7.0"/>
<circle fill="rgba(248,118,109,0.76)" cx="1013.8" cy="765.7" r="7.0"/>
<circle fill="rgba(248,118,109,0.76)" cx="1013.8" cy="769.6" r="7.0"/>
<circle fill="rgba(248,118,109,0.76)" cx="1013.8" cy="773.5" r="7.0"/>
<circle fill="rgba(248,118,109,0.76)" cx="1013.8" cy="777.3" r="7.0"/>
<circle fill="rgba(248,118,109,0.76)" cx="1013.8" cy="781.2" r="7.0"/>
<circle fill="rgba(248,118,109,0.76)" cx="1029" cy="724.6" r="7.0"/>
<circle fill="rgba(248,118,109,0.76)" cx="1036.2" cy="729" r="7.0"/>
<circle fill="rgba(248,118,109,0.76)" cx="1029.7" cy="759.4" r="7.0"/>
<circle fill="rgba(248,118,109,0.76)" cx="1029.7" cy="782.6" r="7.0"/>
<circle fill="rgba(248,118,109,0.76)" cx="1029" cy="800" r="7.0"/>
<circle fill="rgba(248,118,109,0.76)" cx="1024.6" cy="802.9" r="7.0"/>
<circle fill="rgba(248,118,109,0.76)" cx="1046.4" cy="704.3" r="7.0"/>
<circle fill="rgba(248,118,109,0.76)" cx="1046.4" cy="708.6" r="7.0"/>
<circle fill="rgba(248,118,109,0.76)" cx="1046.4" cy="713" r="7.0"/>
<circle fill="rgba(248,118,109,0.76)" cx="1046.4" cy="717.4" r="7.0"/>
<circle fill="rgba(248,118,109,0.76)" cx="1046.4" cy="721.7" r="7.0"/>
<circle fill="rgba(248,118,109,0.76)" cx="1046.4" cy="747.8" r="7.0"/>
<circle fill="rgba(248,118,109,0.76)" cx="1046.4" cy="751.9" r="7.0"/>
<circle fill="rgba(248,118,109,0.76)" cx="1046.4" cy="756" r="7.0"/>
<circle fill="rgba(248,118,109,0.76)" cx="1046.4" cy="760.1" r="7.0"/>
<circle fill="rgba(248,118,109,0.76)" cx="1046.4" cy="764.2" r="7.0"/>
<circle fill="rgba(248,118,109,0.76)" cx="1046.4" cy="768.3" r="7.0"/>
<circle fill="rgba(248,118,109,0.76)" cx="1046.4" cy="772.3" r="7.0"/>
<circle fill="rgba(248,118,109,0.76)" cx="1046.4" cy="776.4" r="7.0"/>
<circle fill="rgba(248,118,109,0.76)" cx="1046.4" cy="780.5" r="7.0"/>
<circle fill="rgba(248,118,109,0.76)" cx="1046.4" cy="784.6" r="7.0"/>
<circle fill="rgba(248,118,109,0.76)" cx="1046.4" cy="788.7" r="7.0"/>
<circle fill="rgba(248,118,109,0.76)" cx="1046.4" cy="792.8" r="7.0"/>
<circle fill="rgba(248,118,109,0.76)" cx="1046.4" cy="824.6" r="7.0"/>
<circle fill="rgba(248,118,109,0.76)" cx="1055" cy="702.9" r="7.0"/>
<circle fill="rgba(248,118,109,0.76)" cx="1112" cy="706.6" r="7.0"/>
<circle fill="rgba(248,118,109,0.76)" cx="1105.3" cy="716.8" r="7.0"/>
<circle fill="rgba(248,118,109,0.76)" cx="1128.6" cy="701.3" r="7.0"/>
<circle fill="rgba(248,118,109,0.76)" cx="1133.6" cy="711.9" r="7.0"/>
<circle fill="rgba(248,118,109,0.76)" cx="1079.2" cy="725.7" r="7.0"/>
<circle fill="rgba(248,118,109,0.76)" cx="1090.8" cy="727.8" r="7.0"/>
<circle fill="rgba(248,118,109,0.76)" cx="1112" cy="734.2" r="7.0"/>
<circle fill="rgba(248,118,109,0.76)" cx="1128.6" cy="734.2" r="7.0"/>
<circle fill="rgba(248,118,109,0.76)" cx="1144.9" cy="739.4" r="7.0"/>
<circle fill="rgba(248,118,109,0.76)" cx="1177.7" cy="741.6" r="7.0"/>
<circle fill="rgba(248,118,109,0.76)" cx="1099.3" cy="739.4" r="7.0"/>
<circle fill="rgba(248,118,109,0.76)" cx="1243.4" cy="706.2" r="7.0"/>
<circle fill="rgba(248,118,109,0.76)" cx="1079.2" cy="749" r="7.0"/>
<circle fill="rgba(248,118,109,0.76)" cx="1079.2" cy="757.5" r="7.0"/>
<circle fill="rgba(248,118,109,0.76)" cx="1063.3" cy="753.2" r="7.0"/>
<circle fill="rgba(248,118,109,0.76)" cx="1112" cy="754.3" r="7.0"/>
<circle fill="rgba(248,118,109,0.76)" cx="1128.6" cy="756.4" r="7.0"/>
<circle fill="rgba(248,118,109,0.76)" cx="1177.7" cy="754.3" r="7.0"/>
<circle fill="rgba(248,118,109,0.76)" cx="1144.9" cy="767" r="7.0"/>
<circle fill="rgba(248,118,109,0.76)" cx="1079.2" cy="771.2" r="7.0"/>
<circle fill="rgba(248,118,109,0.76)" cx="1090.8" cy="774.4" r="7.0"/>
<circle fill="rgba(248,118,109,0.76)" cx="1095.1" cy="776.5" r="7.0"/>
<circle fill="rgba(248,118,109,0.76)" cx="1112" cy="773.3" r="7.0"/>
<circle fill="rgba(248,118,109,0.76)" cx="1112" cy="778.6" r="7.0"/>
<circle fill="rgba(248,118,109,0.76)" cx="1112" cy="785" r="7.0"/>
<circle fill="rgba(248,118,109,0.76)" cx="1166.7" cy="778" r="7.0"/>
<circle fill="rgba(248,118,109,0.76)" cx="1079.2" cy="788.2" r="7.0"/>
<circle fill="rgba(248,118,109,0.76)" cx="1089.8" cy="788.2" r="7.0"/>
<circle fill="rgba(248,118,109,0.76)" cx="1128.6" cy="795.6" r="7.0"/>
<circle fill="rgba(248,118,109,0.76)" cx="1156.1" cy="797.7" r="7.0"/>
<circle fill="rgba(248,118,109,0.76)" cx="1144.9" cy="806.2" r="7.0"/>
<circle fill="rgba(248,118,109,0.76)" cx="1177.7" cy="800.9" r="7.0"/>
<circle fill="rgba(248,118,109,0.76)" cx="1112" cy="812.1" r="7.0"/>
<circle fill="rgba(248,118,109,0.76)" cx="925.6" cy="739.7" r="7.0"/>
<circle fill="rgba(248,118,109,0.76)" cx="930.8" cy="759" r="7.0"/>
<circle fill="rgba(248,118,109,0.76)" cx="947.4" cy="746.2" r="7.0"/>
<circle fill="rgba(248,118,109,0.76)" cx="947.4" cy="766.7" r="7.0"/>
<circle fill="rgba(248,118,109,0.76)" cx="955.1" cy="759" r="7.0"/>
<circle fill="rgba(248,118,109,0.76)" cx="964.1" cy="744.9" r="7.0"/>
<circle fill="rgba(248,118,109,0.76)" cx="947.4" cy="797.4" r="7.0"/>
<circle fill="rgba(248,118,109,0.76)" cx="955.1" cy="794.9" r="7.0"/>
<circle fill="rgba(248,118,109,0.76)" cx="964.1" cy="802.6" r="7.0"/>
<circle fill="rgba(248,118,109,0.76)" cx="968" cy="791" r="7.0"/>
<circle fill="rgba(248,118,109,0.76)" cx="930.8" cy="789.7" r="7.0"/>
<circle fill="rgba(248,118,109,0.76)" cx="937.2" cy="806.4" r="7.0"/>
<circle fill="rgba(248,118,109,0.76)" cx="1012.8" cy="728" r="7.0"/>
<circle fill="rgba(248,118,109,0.76)" cx="1012.8" cy="733" r="7.0"/>
<circle fill="rgba(248,118,109,0.76)" cx="1028.2" cy="725.6" r="7.0"/>
<circle fill="rgba(248,118,109,0.76)" cx="994.9" cy="753.8" r="7.0"/>
<circle fill="rgba(248,118,109,0.76)" cx="994.9" cy="766.7" r="7.0"/>
<circle fill="rgba(248,118,109,0.76)" cx="1002.6" cy="779.5" r="7.0"/>
<circle fill="rgba(248,118,109,0.76)" cx="1005.1" cy="791" r="7.0"/>
<circle fill="rgba(248,118,109,0.76)" cx="1012.8" cy="789.7" r="7.0"/>
<circle fill="rgba(248,118,109,0.76)" cx="1025.6" cy="802.6" r="7.0"/>
<circle fill="rgba(248,118,109,0.76)" cx="1030.8" cy="800" r="7.0"/>
<circle fill="rgba(248,118,109,0.76)" cx="1053.8" cy="700" r="7.0"/>
<circle fill="rgba(248,118,109,0.76)" cx="1057.7" cy="702.6" r="7.0"/>
<circle fill="rgba(248,118,109,0.76)" cx="1061.5" cy="751.3" r="7.0"/>
<circle fill="rgba(248,118,109,0.76)" cx="1061.5" cy="738.5" r="7.0"/>
<circle fill="rgba(248,118,109,0.76)" cx="1079.5" cy="693.6" r="7.0"/>
<circle fill="rgba(248,118,109,0.76)" cx="1079.5" cy="723" r="7.0"/>
<circle fill="rgba(248,118,109,0.76)" cx="1079.5" cy="730.8" r="7.0"/>
<circle fill="rgba(248,118,109,0.76)" cx="1079.5" cy="753.8" r="7.0"/>
<circle fill="rgba(248,118,109,0.76)" cx="1079.5" cy="761.5" r="7.0"/>
<circle fill="rgba(248,118,109,0.76)" cx="1089.7" cy="774.4" r="7.0"/>
<circle fill="rgba(248,118,109,0.76)" cx="1092.3" cy="777" r="7.0"/>
<circle fill="rgba(248,118,109,0.76)" cx="1023" cy="735" r="7.0"/>
<circle fill="rgba(248,118,109,0.76)" cx="1030" cy="742" r="7.0"/>
<circle fill="rgba(248,118,109,0.76)" cx="1037" cy="748" r="7.0"/>
<circle fill="rgba(248,118,109,0.76)" cx="1033" cy="754" r="7.0"/>
<circle fill="rgba(248,118,109,0.76)" cx="1004" cy="745" r="7.0"/>
<circle fill="rgba(248,118,109,0.76)" cx="1000" cy="738" r="7.0"/>
<circle fill="rgba(248,118,109,0.76)" cx="980.8" cy="743" r="7.0"/>
<circle fill="rgba(248,118,109,0.76)" cx="980.8" cy="747" r="7.0"/>
<circle fill="rgba(248,118,109,0.76)" cx="980.8" cy="751" r="7.0"/>
<circle fill="rgba(248,118,109,0.76)" cx="1046.2" cy="724.9" r="7.0"/>
<circle fill="rgba(248,118,109,0.76)" cx="1046.2" cy="728.7" r="7.0"/>
<circle fill="rgba(248,118,109,0.76)" cx="1046.2" cy="732.6" r="7.0"/>
<circle fill="rgba(248,118,109,0.76)" cx="1046.2" cy="736.4" r="7.0"/>
<circle fill="rgba(248,118,109,0.76)" cx="1046.2" cy="740.3" r="7.0"/>
<circle fill="rgba(248,118,109,0.76)" cx="1046.2" cy="744.1" r="7.0"/>
<polygon points="915,744.7 923.3,744.5 931.5,744.4 939.7,744.2 948,744 956.2,743.8 964.4,743.5 972.7,743.2 980.9,742.9 989.1,742.5 997.4,741.9 1005.6,741.3 1013.8,740.5 1022.1,739.6 1030.3,738.5 1038.5,737.4 1046.8,736.1 1055,734.8 1063.2,733.4 1071.4,731.9 1079.7,730.4 1087.9,728.9 1096.1,727.4 1104.4,725.9 1112.6,724.4 1120.8,722.8 1129.1,721.2 1137.3,719.7 1145.5,718.1 1153.8,716.5 1162,715 1170.2,713.4 1178.5,711.8 1186.7,710.2 1194.9,708.6 1203.2,707 1211.4,705.4 1219.6,703.8 1227.9,702.2 1236.1,700.6 1244.3,699 1244.3,742.5 1236.1,742.6 1227.9,742.7 1219.6,742.8 1211.4,742.9 1203.2,743 1194.9,743.1 1186.7,743.3 1178.5,743.4 1170.2,743.5 1162,743.6 1153.8,743.7 1145.5,743.8 1137.3,743.9 1129.1,744.1 1120.8,744.2 1112.6,744.3 1104.4,744.5 1096.1,744.7 1087.9,744.8 1079.7,745 1071.4,745.3 1063.2,745.5 1055,745.8 1046.8,746.2 1038.5,746.6 1030.3,747.1 1022.1,747.7 1013.8,748.5 1005.6,749.4 997.4,750.5 989.1,751.7 980.9,752.9 972.7,754.3 964.4,755.7 956.2,757.1 948,758.6 939.7,760.1 931.5,761.6 923.3,763.1 915,764.7" fill="rgba(210,210,210,0.65)"/>
<line x1="915" y1="754.7" x2="1244.3" y2="720.8" stroke="#4682b4" stroke-width="3"/>
</g>
<line x1="980.9" y1="844.7" x2="980.9" y2="848.7" stroke="#333" stroke-width="1.1"/>
<text class="tk" x="980.9" y="863.2" text-anchor="middle">3</text>
<line x1="1079.7" y1="844.7" x2="1079.7" y2="848.7" stroke="#333" stroke-width="1.1"/>
<text class="tk" x="1079.7" y="863.2" text-anchor="middle">6</text>
<line x1="1178.5" y1="844.7" x2="1178.5" y2="848.7" stroke="#333" stroke-width="1.1"/>
<text class="tk" x="1178.5" y="863.2" text-anchor="middle">9</text>
<line x1="894.6" y1="726.8" x2="898.6" y2="726.8" stroke="#333" stroke-width="1.1"/>
<text class="tk" x="891.4" y="732.4" text-anchor="end">10</text>
<line x1="894.6" y1="602.2" x2="898.6" y2="602.2" stroke="#333" stroke-width="1.1"/>
<text class="tk" x="891.4" y="607.8" text-anchor="end">20</text>
<text class="ax" x="1079.2" y="884.1" text-anchor="middle">Species richness</text>
<text class="ax" transform="translate(867.6,666.5) rotate(-90)" x="0" y="0" text-anchor="middle">Ecosystem stability</text>
<text class="lb" x="858.7" y="472.5">(f)</text>
<text class="eq" x="1224.7" y="553.3" text-anchor="end"><tspan font-style="italic">y</tspan> = 7.49 + 0.272 <tspan font-style="italic">x</tspan></text>
<text class="eq" x="1082.4" y="582.6"><tspan font-style="italic">P</tspan> = 0.028</text>
<text class="eq" x="1222.6" y="582.6" text-anchor="end"><tspan font-style="italic">R</tspan><tspan dy="-8.5" font-size="13">2</tspan><tspan dy="8.5"> = 0.02</tspan></text>
</svg></body></html>
